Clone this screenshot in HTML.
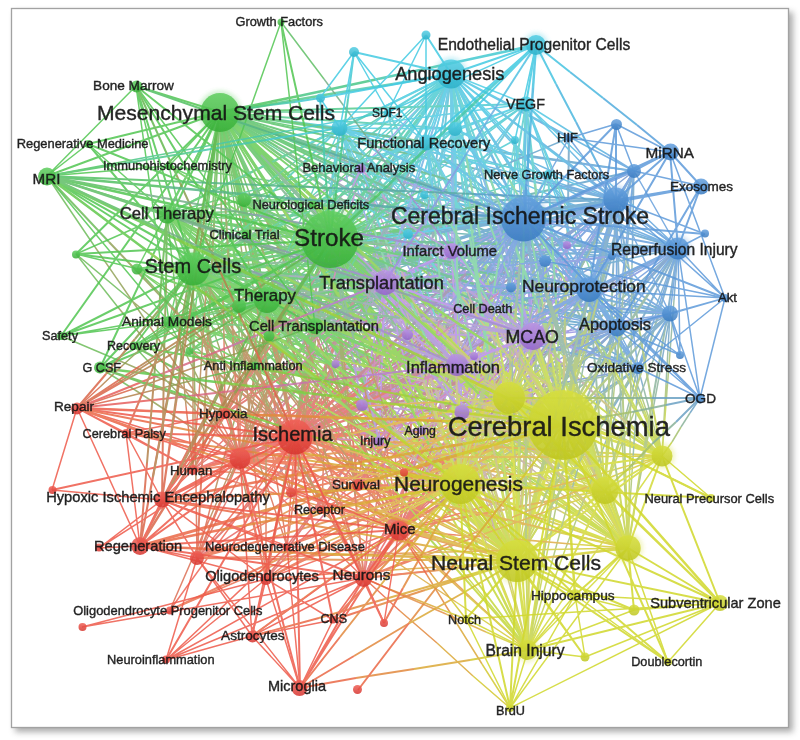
<!DOCTYPE html><html><head><meta charset="utf-8"><style>html,body{margin:0;padding:0;background:#fff;width:800px;height:740px;overflow:hidden}svg{display:block}text{font-family:"Liberation Sans",sans-serif;fill:#141414;stroke:#141414;stroke-width:0.4px;opacity:0.93}</style></head><body>
<svg width="800" height="740" viewBox="0 0 800 740">
<defs><filter id="sh" x="-5%" y="-5%" width="115%" height="115%"><feGaussianBlur stdDeviation="3"/></filter><filter id="hb" x="-50%" y="-50%" width="200%" height="200%"><feGaussianBlur stdDeviation="2"/></filter>
<filter id="bl" x="0" y="0" width="100%" height="100%"><feGaussianBlur stdDeviation="0.5"/></filter>
<linearGradient id="gG" x1="0" y1="0" x2="0" y2="1"><stop offset="0" stop-color="#60ce60"/><stop offset="1" stop-color="#36ae36"/></linearGradient>
<linearGradient id="gC" x1="0" y1="0" x2="0" y2="1"><stop offset="0" stop-color="#54cee4"/><stop offset="1" stop-color="#2cb0c8"/></linearGradient>
<linearGradient id="gB" x1="0" y1="0" x2="0" y2="1"><stop offset="0" stop-color="#64a0de"/><stop offset="1" stop-color="#387ac0"/></linearGradient>
<linearGradient id="gP" x1="0" y1="0" x2="0" y2="1"><stop offset="0" stop-color="#ba94e4"/><stop offset="1" stop-color="#9264ca"/></linearGradient>
<linearGradient id="gR" x1="0" y1="0" x2="0" y2="1"><stop offset="0" stop-color="#f06056"/><stop offset="1" stop-color="#d6342e"/></linearGradient>
<linearGradient id="gY" x1="0" y1="0" x2="0" y2="1"><stop offset="0" stop-color="#d6de3e"/><stop offset="1" stop-color="#bec620"/></linearGradient>
</defs>
<rect x="15" y="12" width="778" height="720" fill="#888" filter="url(#sh)" opacity="0.7"/>
<rect x="11.5" y="8.5" width="777" height="719" fill="#fff" stroke="#a2a2a2" stroke-width="1.3"/>
<g filter="url(#bl)">
<g fill="none" stroke-linecap="butt" opacity="0.8">
<path stroke="#81cc43" stroke-width="1.5" d="M364 344L412 362M242 362L315 403M310 250L376 299M256 382L343 442M393 382L472 437M317 373L365 410M306 395L358 425M232 342L327 415M306 329L374 352M218 323L299 376M320 414L386 463M314 316L382 398M331 392L393 448M334 273L424 345M282 298L398 381M364 294L415 383M254 341L339 360M340 287L436 374M388 367L460 408M362 253L411 301M353 375L437 413M318 374L382 382M336 366L434 427M350 274L387 344M347 432L257 323"/>
<path stroke="#48c8ac" stroke-width="3.0" d="M421 115L390 157"/>
<path stroke="#5c9fc9" stroke-width="3.5" d="M524 219L475 224"/>
<path stroke="#88b198" stroke-width="2.0" d="M558 278L593 338M589 250L562 299M525 387L557 338M598 405L638 327M524 322L537 356M600 396L619 382M569 366L624 307M592 386L567 444M616 234L598 298M600 298L588 340M569 317L549 344M636 286L594 323M593 340L597 390M599 354L608 419M526 434L524 327M550 302L554 343M577 271L538 342M578 367L539 406M632 375L594 437M613 273L610 345M607 331L626 373M660 309L642 370M566 281L568 209M590 345L563 363M605 268L576 366M666 323L653 398M591 249L547 328M619 287L622 374M618 356L565 399M628 264L639 328"/>
<path stroke="#5e9ada" stroke-width="2.5" d="M616 200L524 219M524 219L589 290"/>
<path stroke="#cccd43" stroke-width="2.5" d="M563 425L536 410M563 425L538 422M521 505L517 561M563 425L535 382M517 561L484 491M478 447L460 484"/>
<path stroke="#50c1e2" stroke-width="2.0" d="M451 74L471 140M451 74L434 126M451 74L452 147"/>
<path stroke="#52c652" stroke-width="1.5" d="M244 200L193 269M315 326L267 300M239 306L193 269M313 204L330 240M137 269L193 269M167 214L267 300M190 351L330 240M169 322L220 112M255 366L330 240M239 306L267 300M269 336L220 112M137 269L220 112M169 166L330 240M169 322L267 300M269 336L193 269M246 234L220 112M246 234L193 269M169 166L220 112M220 112L313 204M167 214L244 200M169 322L193 269M313 204L193 269M167 214L239 306M269 336L267 300M244 200L267 300M190 351L193 269M313 204L267 300M190 351L220 112M190 351L267 300M169 166L193 269M315 326L167 214"/>
<path stroke="#57bccf" stroke-width="2.5" d="M451 74L412 165"/>
<path stroke="#dba837" stroke-width="2.5" d="M522 451L481 478M482 433L402 442M378 460L419 472M402 418L456 408M406 499L462 530M513 463L463 502"/>
<path stroke="#a68ed1" stroke-width="1.5" d="M474 356L438 327M478 334L532 336M368 293L385 282M485 308L446 291M330 265L385 282M452 251L406 263M462 412L413 384M422 430L399 383M348 288L385 282M361 168L326 154M462 412L395 376M361 279L408 334M336 364L334 333M567 245L508 244M379 441L332 398M350 262L385 282M459 329L532 336M361 168L319 194M336 364L300 340M422 355L457 365M326 332L362 405M404 324L457 365M356 296L385 282M323 279L385 282M408 334L372 326M442 333L532 336M350 270L385 282M467 336L532 336M402 350L457 365M379 441L339 359M408 334L354 318M331 292L385 282M361 168L338 201M422 430L365 390M362 405L320 371M461 311L532 336M460 302L532 336M307 301L336 364M350 385L362 405M480 212L567 245M362 405L338 379M474 356L404 334M352 303L385 282M384 327L457 365"/>
<path stroke="#6ca1c4" stroke-width="1.5" d="M670 314L630 335M594 397L638 368M545 261L524 317M638 368L606 376M670 314L654 358M608 416L638 368M634 171L603 228M617 328L614 368M678 248L674 300M617 328L628 360M511 288L498 337M670 314L660 372M617 328L620 383M545 261L538 336M574 380L589 290M638 368L636 413M511 288L512 356M616 200L594 312M638 368L630 399M638 368L644 390M634 171L632 265M640 349L678 248M612 256L586 292M617 328L595 408M545 261L536 295M511 288L534 338M612 256L574 313M545 261L560 318M511 288L540 353M511 288L510 315M634 171L627 251M670 314L668 349"/>
<path stroke="#5aa0db" stroke-width="2.5" d="M505 183L524 219"/>
<path stroke="#dba837" stroke-width="3.5" d="M496 428L429 431"/>
<path stroke="#a0d13a" stroke-width="3.5" d="M505 379L446 332M470 386L378 347M470 481L424 400M477 347L392 269M428 423L395 362"/>
<path stroke="#56b585" stroke-width="1.5" d="M272 233L378 252M330 244L234 256M382 187L301 150M468 307L368 303M471 248L400 244M450 188L390 214M418 212L366 208M466 263L390 294M322 329L389 292M396 278L333 307M330 222L416 245M324 176L429 240M356 285L273 318M326 302L414 298M346 192L258 179M430 200L337 200M428 253L333 280M442 314L354 307M369 265L281 267M385 227L315 231M295 223L422 231M352 278L272 274M384 317L452 308M392 271L280 242M389 294L328 297M406 307L496 287M392 207L279 210M416 184L318 148M416 318L304 294M349 324L429 313"/>
<path stroke="#a0d13a" stroke-width="2.5" d="M340 298L400 391M394 430L327 376M365 320L464 372M351 334L430 366M436 488L355 415M468 365L536 428M364 255L437 327M439 376L501 400M496 348L579 402M412 438L364 392M479 394L554 471M454 496L392 430M478 547L429 445M412 302L509 396"/>
<path stroke="#da674b" stroke-width="3.0" d="M295 437L304 388"/>
<path stroke="#d76a83" stroke-width="1.5" d="M312 429L328 421M348 412L294 435M448 458L406 518M337 439L316 438M323 411L351 386M396 468L392 406M415 501L430 471M369 504L374 430M346 355L293 407M340 417L384 396M428 448L414 489M390 372L342 405M445 411L402 448M328 303L312 370M408 425L383 455M365 447L281 503M305 419L315 400M365 434L372 384M265 381L305 348M301 432L270 445M351 435L296 447M362 472L314 526M358 434L327 435M426 391L412 461M363 389L431 341M389 486L394 508M388 537L413 495M390 499L380 468M241 423L289 376M468 404L436 438M410 472L387 525M278 437L363 403"/>
<path stroke="#d3c82f" stroke-width="2.5" d="M563 425L522 451M563 425L482 433M419 472L460 484M456 408L509 398M462 530L517 561M563 425L513 463"/>
<path stroke="#bed642" stroke-width="1.5" d="M467 330L509 398M488 334L509 398M560 404L605 490M447 422L460 484M513 324L509 398M568 400L605 490M484 357L509 398M496 331L509 398M578 447L628 548M488 347L509 398M460 484L442 391M460 484L482 406M556 443L628 548M474 398L460 484M452 412L460 484M581 374L662 456M628 368L662 456M510 334L509 398M490 479L517 561"/>
<path stroke="#59aaa7" stroke-width="2.0" d="M345 216L434 218M585 295L500 276M517 178L418 156M449 180L564 214M561 336L484 304M419 272L471 246M510 217L404 234M529 225L442 250M454 214L384 210M491 256L438 250M452 241L381 262M490 284L391 279M404 201L497 245M558 188L482 205M557 254L436 259M346 270L435 245M508 292L428 295M530 156L427 142M511 313L405 298M466 276L420 264M575 261L472 274M518 274L418 220M558 263L445 213M551 302L432 291"/>
<path stroke="#ad8483" stroke-width="2.0" d="M346 266L293 362M317 282L306 360M360 290L328 363M425 302L412 416M353 354L410 270"/>
<path stroke="#6897db" stroke-width="2.5" d="M524 219L489 235M524 219L526 248"/>
<path stroke="#da674b" stroke-width="1.5" d="M222 397L240 458M193 470L193 420M193 470L200 381M225 414L217 377M225 414L224 338M210 364L225 414M193 470L212 428M197 558L196 486M254 462L266 579M266 579L248 502M192 388L240 458M240 391L295 437M199 408L240 458M295 437L236 412M205 436L240 458M222 424L240 458M240 458L214 430M186 406L193 470M287 546L264 477M270 438L287 546M288 412L295 437M281 404L295 437M317 431L358 485M322 510L324 442M364 578L339 509M264 408L295 437M358 485L335 439M287 546L298 470M170 610L210 518M269 416L295 437M285 419L295 437M273 398L291 492M291 492L266 437M282 378L295 437M283 386L295 437M240 420L240 458M404 472L386 414M225 414L236 385M324 392L358 485M378 479L399 530M256 395L295 437M266 579L266 509M259 425L240 458M314 487L364 578M247 428L240 458M404 472L351 422M322 510L289 449M197 558L214 494M359 474L399 530"/>
<path stroke="#61c84d" stroke-width="3.0" d="M330 240L375 279M220 112L294 225M341 331L267 300"/>
<path stroke="#50c664" stroke-width="2.5" d="M278 103L220 112"/>
<path stroke="#8e9ead" stroke-width="1.5" d="M438 327L402 298M424 331L478 334M350 304L368 293M446 291L408 274M276 248L330 265M406 263L360 276M413 384L364 356M399 383L376 335M312 294L348 288M326 154L290 140M395 376L328 340M314 224L361 279M334 333L333 302M508 244L448 242M332 398L286 355M314 241L350 262M386 321L459 329M319 194L277 219M300 340L264 316M386 346L422 355M291 259L326 332M350 282L404 324M327 309L356 296M261 276L323 279M372 326L337 317M351 329L442 333M316 258L350 270M401 336L467 336M348 336L402 350M339 359L300 277M354 318L300 302M277 302L331 292M338 201L314 234M365 390L308 350M320 371L278 337M389 286L461 311M388 268L460 302M278 238L307 301M338 366L350 385M394 179L480 212M338 379L314 352M404 334L334 312M320 324L352 303M312 290L384 327"/>
<path stroke="#76ae88" stroke-width="2.5" d="M344 250L358 261M431 288L381 264M394 302L362 271M376 224L298 168"/>
<path stroke="#56b585" stroke-width="3.5" d="M427 229L378 234"/>
<path stroke="#77cf9d" stroke-width="3.0" d="M479 162L507 250"/>
<path stroke="#6ca1c4" stroke-width="2.0" d="M524 219L558 278M616 200L589 250M557 338L589 290M638 327L678 248M511 288L524 322M619 382L638 368M624 307L678 248M617 328L592 386M634 171L616 234M612 256L600 298M589 290L569 317M678 248L636 286M589 290L593 340M589 290L599 354M524 327L524 219M545 261L550 302M616 200L577 271M617 328L578 367M670 314L632 375M616 200L613 273M589 290L607 331M678 248L660 309M568 209L569 138M617 328L590 345M634 171L605 268M678 248L666 323M634 171L591 249M616 200L619 287M670 314L618 356M616 200L628 264"/>
<path stroke="#b980d0" stroke-width="2.0" d="M362 321L385 282M473 362L532 336M457 365L416 383M420 418L462 412M349 326L385 282M532 336L459 367M452 251L413 298M532 336L499 385"/>
<path stroke="#59aaa7" stroke-width="1.5" d="M378 252L484 271M427 232L330 244M464 224L382 187M569 310L468 307M542 252L471 248M509 163L450 188M471 215L418 212M541 232L466 263M389 292L456 256M460 248L396 278M416 245L503 267M429 240L534 304M440 252L356 285M414 298L502 294M435 206L346 192M523 200L430 200M522 226L428 253M530 321L442 314M457 263L369 265M454 223L385 227M422 231L550 240M432 283L352 278M452 308L520 299M504 299L392 271M450 291L389 294M496 287L587 268M504 204L392 207M514 220L416 184M527 343L416 318M429 313L509 301"/>
<path stroke="#9ad270" stroke-width="3.0" d="M507 250L535 337"/>
<path stroke="#a0d13a" stroke-width="2.0" d="M388 349L448 374M490 403L416 380M388 405L424 444M399 380L502 435M366 374L464 399M484 377L404 330M436 395L520 443M482 395L401 366M483 369L404 312M410 408L519 478M338 306L424 352M416 444L466 502M314 349L387 416M448 424L538 486M500 370L438 315M409 395L486 410M350 395L405 440M456 386L350 347M441 284L552 370M342 388L430 474M464 378L563 417M378 434L448 497M352 342L406 413M424 330L526 439M428 362L545 409M470 406L376 388M462 562L397 475M464 360L366 296M380 380L449 471M444 555L360 460M386 352L496 421M451 516L374 381"/>
<path stroke="#8c9d4f" stroke-width="2.5" d="M258 275L239 194M244 353L218 311M285 349L308 294M364 385L347 312"/>
<path stroke="#53acdd" stroke-width="1.5" d="M594 176L571 152M466 226L495 223M560 194L615 254M519 180L521 199M474 207L499 213M573 243L558 197M490 192L456 166M530 208L536 196M640 212L602 176M498 168L522 214M481 181L496 234M576 182L536 164M568 186L521 171M542 122L588 147M509 188L593 218M594 272L572 216M522 209L556 249M544 221L591 294M547 182L478 164M508 216L548 253M464 209L527 249M579 261L568 232M552 196L615 222M564 208L512 217M607 154L580 138M576 278L536 228M532 165L572 210M510 106L540 122M566 189L622 219M599 194L582 187M582 164L530 157"/>
<path stroke="#77cf9d" stroke-width="1.5" d="M382 196L424 263M447 206L468 270M471 230L516 316M421 296L434 359M522 178L518 251M492 219L530 310M433 275L458 316M468 196L482 264M476 244L527 345M446 246L467 296M424 298L406 205M504 329L526 252M412 233L484 338M501 226L488 312M434 267L442 340M420 210L501 292M560 192L594 280M514 204L512 269M435 316L462 398"/>
<path stroke="#d0d82c" stroke-width="1.5" d="M528 650L628 548M528 650L662 456"/>
<path stroke="#6ca1c4" stroke-width="2.5" d="M524 219L520 264M649 293L678 248M617 328L604 352M616 200L591 290M524 219L550 301M524 219L544 287M670 314L643 341M589 290L571 357"/>
<path stroke="#52c652" stroke-width="2.5" d="M330 240L267 300M220 112L193 269M167 214L330 240M220 112L267 300"/>
<path stroke="#5ebe64" stroke-width="2.0" d="M220 112L261 155M360 242L330 240M267 300L296 296M193 269L241 272M349 263L330 240M259 293L193 269M363 283L330 240M338 222L330 240M278 286L193 269M333 309L267 300M314 316L267 300M279 176L220 112M338 281L330 240M278 147L220 112M220 112L280 187M342 290L330 240M258 264L193 269M167 214L258 245"/>
<path stroke="#9ad270" stroke-width="1.5" d="M424 263L467 330M468 270L488 334M516 316L560 404M434 359L447 422M518 251L513 324M530 310L568 400M458 316L484 357M482 264L496 331M527 345L578 447M467 296L488 347M442 391L424 298M482 406L504 329M484 338L556 443M488 312L474 398M442 340L452 412M501 292L581 374M594 280L628 368M512 269L510 334M462 398L490 479"/>
<path stroke="#53c063" stroke-width="3.0" d="M296 139L220 112"/>
<path stroke="#48c8ac" stroke-width="1.5" d="M374 144L359 176M469 165L422 190M361 204L314 173M494 190L439 207M321 171L303 214M386 182L346 221M401 206L377 217M408 172L361 214M417 137L383 200M304 112L346 112M296 150L253 171M396 202L461 153M399 106L348 137M390 164L324 199M296 178L361 160M373 174L322 154M373 250L338 267M360 186L443 145M398 132L345 190M333 178L327 227M406 140L360 205M384 143L466 159M416 107L382 139M316 146L292 164M370 234L398 188M380 136L310 198M339 152L290 191M354 243L300 252M380 157L335 171"/>
<path stroke="#6cb0e2" stroke-width="1.5" d="M451 118L452 162M416 178L406 212M388 180L436 232M474 181L494 233M351 167L362 205M529 220L528 162M454 158L456 243M453 191L479 240M434 198L442 254M440 139L429 204M456 193L491 149M429 157L406 240M432 170L439 197M369 187L398 246M428 98L406 121M402 246L396 258M456 188L456 247M438 167L420 206M439 260L470 285"/>
<path stroke="#53c063" stroke-width="2.5" d="M402 230L330 240M276 256L193 269M417 242L330 240M331 280L267 300M402 262L330 240M395 252L330 240"/>
<path stroke="#44c9d0" stroke-width="2.5" d="M451 74L393 84"/>
<path stroke="#bda49f" stroke-width="2.0" d="M423 383L404 333M472 414L487 463M462 415L412 410M485 380L446 357M527 352L521 367M470 373L483 382M461 448L462 430M416 311L447 340M490 486L476 449M458 395L459 424M454 309L456 368M494 396L531 428M556 389L580 442M440 334L495 386M500 411L542 456M446 349L506 415M551 375L569 414M518 390L496 373M468 328L484 406M504 337L524 366M471 433L425 437M412 233L462 297M457 429L492 428M565 366L597 396M565 335L566 290M449 394L392 379M454 326L524 369M530 493L531 415"/>
<path stroke="#e2893e" stroke-width="3.5" d="M429 431L362 434"/>
<path stroke="#d3c82f" stroke-width="2.0" d="M445 496L460 484M563 425L512 440M479 565L517 561M460 484L405 478M517 561L448 535M488 553L517 561M563 425L495 442M528 477L605 490M545 520L628 548M460 484L436 508M570 451L662 456M563 425L523 437M517 561L437 560M528 650L469 597M563 425L472 458M473 443L509 398M460 484L395 502M482 431L509 398M442 413L509 398M563 425L489 464M563 425L478 422M563 425L494 455M563 425L470 436M514 482L605 490M554 500L605 490M563 425L503 446M563 425L465 471M531 526L628 548"/>
<path stroke="#9482a4" stroke-width="2.0" d="M492 297L461 375M442 363L516 326M453 279L382 339M536 259L456 318M536 355L456 382M486 343L582 296M482 286L441 352M449 268L374 316M442 304L360 388M484 309L444 399M459 309L395 399M502 332L414 374M576 344L482 375M522 265L428 329"/>
<path stroke="#c0d530" stroke-width="3.0" d="M464 358L509 398M443 449L517 561M563 425L489 394"/>
<path stroke="#e2893e" stroke-width="2.5" d="M481 478L440 504M402 442L321 450M336 449L378 460M348 427L402 418M350 468L406 499M463 502L413 540"/>
<path stroke="#d0d82c" stroke-width="3.0" d="M563 425L628 548M563 425L605 490M460 484L517 561"/>
<path stroke="#d8685d" stroke-width="2.0" d="M293 362L240 458M306 360L295 437M328 363L295 437M412 416L399 530M295 437L353 354"/>
<path stroke="#b590cd" stroke-width="1.5" d="M421 372L408 334M401 444L362 405M462 412L474 408M435 391L408 334M387 425L362 405M362 405L399 403M457 365L508 388M452 251L490 311M408 334L433 350M421 374L385 282M471 388L474 356M452 251L466 288M379 441L399 452M379 441L412 430M462 412L504 446M379 441L414 471M367 394L336 364M422 430L446 463M452 251L496 325M362 405L423 426M462 412L498 432M474 356L483 366M485 308L479 352M362 405L428 441M485 407L474 356M540 305L567 245M485 308L493 371M361 168L386 247M381 413L336 364M485 308L491 330M379 441L436 453M422 430L432 444M475 436L457 365M554 324L567 245M567 245L552 283M422 430L444 422M336 364L379 372M478 472L462 412M361 168L400 267M408 334L463 388"/>
<path stroke="#5ebe64" stroke-width="2.5" d="M330 240L344 250M381 264L330 240M362 271L330 240M298 168L220 112"/>
<path stroke="#b590cd" stroke-width="3.0" d="M540 359L532 336M430 318L385 282"/>
<path stroke="#c875aa" stroke-width="2.0" d="M340 360L362 321M414 387L473 362M416 383L376 401M378 424L420 418M312 370L349 326M459 367L386 398M413 298L374 344M499 385L466 434"/>
<path stroke="#bed642" stroke-width="2.5" d="M458 382L460 484M500 439L517 561M563 425L529 354M563 425L554 345M507 351L563 425"/>
<path stroke="#a5c06d" stroke-width="3.5" d="M543 322L553 374"/>
<path stroke="#8c9d4f" stroke-width="3.0" d="M312 338L321 289"/>
<path stroke="#c0d530" stroke-width="1.5" d="M460 380L509 398M388 444L460 484M443 348L509 398M430 501L517 561M550 492L628 548M413 447L460 484M409 454L460 484M422 488L517 561M442 375L509 398M380 430L460 484M452 512L517 561M449 479L517 561M455 505L517 561M515 418L605 490M513 464L628 548M466 472L517 561M424 379L509 398M532 461L628 548M532 449L605 490M460 350L509 398M521 452L605 490M446 390L509 398M531 488L628 548M424 414L460 484M528 650L437 541"/>
<path stroke="#7d92dd" stroke-width="1.5" d="M596 330L575 332M534 226L545 232M609 212L583 254M636 319L601 325M504 264L514 241M568 307L623 278M511 253L499 288M494 248L466 277M557 320L526 351M442 194L483 206M575 213L534 226M520 270L555 280M599 306L528 298M578 253L539 306M559 316L501 305M487 274L451 330M505 266L465 272M617 326L564 339M544 301L498 312M570 330L624 289M572 199L510 227M516 300L522 312M585 352L612 360M473 325L498 272M577 337L537 346M542 280L539 299M498 307L484 326M548 366L593 367M575 347L512 325M476 255L430 292M484 365L536 327M604 211L592 222M480 286L448 285M592 276L572 296M532 318L476 347M565 250L622 249M578 349L540 370M523 287L501 313"/>
<path stroke="#61c84d" stroke-width="3.5" d="M388 286L330 240M286 308L193 269M377 320L330 240M306 191L220 112M363 301L330 240"/>
<path stroke="#5c9fc9" stroke-width="2.0" d="M434 218L524 219M670 314L585 295M616 200L517 178M564 214L678 248M638 368L561 336M471 246L524 219M616 200L510 217M616 200L529 225M524 219L454 214M545 261L491 256M524 219L452 241M589 290L490 284M497 245L589 290M634 171L558 188M678 248L557 254M435 245L524 219M589 290L508 292M634 171L530 156M617 328L511 313M511 288L466 276M678 248L575 261M617 328L518 274M670 314L558 263M670 314L551 302"/>
<path stroke="#45c4e1" stroke-width="2.0" d="M450 162L426 142M451 74L492 106M340 128L386 151M451 74L486 128M525 133L526 104M455 129L472 152M451 74L492 137M451 74L508 118"/>
<path stroke="#ea6946" stroke-width="2.5" d="M440 504L399 530M321 450L240 458M295 437L336 449M295 437L348 427M295 437L350 468M413 540L364 578"/>
<path stroke="#59aaa7" stroke-width="3.5" d="M475 224L427 229"/>
<path stroke="#d8685d" stroke-width="2.5" d="M334 346L295 437"/>
<path stroke="#57bccf" stroke-width="1.5" d="M455 129L415 206M451 74L394 159M451 74L429 200M340 128L354 229M424 195L392 256M408 234L380 285M451 74L388 195"/>
<path stroke="#d76a83" stroke-width="2.0" d="M318 398L340 360M354 412L414 387M376 401L336 419M337 431L378 424M276 414L312 370M386 398L313 428M374 344L334 390M466 434L432 482"/>
<path stroke="#81cc43" stroke-width="2.0" d="M328 324L388 349M416 380L342 358M351 366L388 405M296 324L399 380M268 348L366 374M404 330L325 282M352 348L436 395M401 366L320 336M404 312L324 256M302 339L410 408M252 260L338 306M366 385L416 444M240 282L314 349M357 362L448 424M438 315L376 260M332 380L409 395M294 350L350 395M350 347L244 308M330 198L441 284M254 301L342 388M366 339L464 378M308 370L378 434M298 271L352 342M322 221L424 330M310 316L428 362M376 388L283 370M397 475L332 388M366 296L268 231M312 290L380 380M360 460L277 364M276 283L386 352M374 381L297 247"/>
<path stroke="#59aaa7" stroke-width="2.5" d="M544 210L473 220M441 232L358 244M591 246L504 244M459 239L395 260M545 306L474 284M524 277L460 264"/>
<path stroke="#c4b971" stroke-width="3.0" d="M555 403L548 381M518 389L474 354"/>
<path stroke="#c0d530" stroke-width="2.0" d="M448 374L509 398M563 425L490 403M424 444L460 484M502 435L605 490M464 399L563 425M563 425L484 377M520 443L605 490M563 425L482 395M563 425L483 369M519 478L628 548M424 352L509 398M466 502L517 561M387 416L460 484M538 486L628 548M563 425L500 370M486 410L563 425M405 440L460 484M563 425L456 386M552 370L662 456M430 474L517 561M563 417L662 456M448 497L517 561M406 413L460 484M526 439L628 548M545 409L662 456M563 425L470 406M528 650L462 562M563 425L464 360M449 471L517 561M528 650L444 555M496 421L605 490M528 650L451 516"/>
<path stroke="#b980d0" stroke-width="1.5" d="M345 413L362 405M457 365L403 388M532 336L490 397M379 441L358 440M379 360L408 334M388 344L385 282M446 442L462 412M380 356L385 282M452 251L399 303M429 376L474 356M457 365L442 406M485 308L438 340M532 336L489 374M361 168L344 236M457 365L432 395M532 336L449 392M325 382L336 364M378 333L385 282M345 315L385 282M362 405L332 418M462 412L406 424M457 365L409 418M422 430L390 432M452 251L439 321M499 293L567 245M379 441L384 463M437 454L462 412M371 436L362 405M337 329L385 282M532 336L500 370M457 365L434 418M448 370L532 336"/>
<path stroke="#50c664" stroke-width="1.5" d="M344 208L330 240M376 215L330 240M267 143L220 112M384 223L330 240M285 257L267 300M307 261L267 300M354 228L330 240M314 257L267 300M349 263L315 326M220 112L262 112M210 192L167 214M267 300L332 251M296 168L244 200M258 234L193 269M167 214L232 196M271 133L220 112M302 284L267 300M193 269L276 228M292 248L239 306M321 276L315 326M314 270L269 336M220 112L302 128M348 172L313 204M268 182L244 200M315 326L343 280M240 260L169 322M242 230L193 269M247 260L193 269M290 186L244 200"/>
<path stroke="#928de0" stroke-width="2.0" d="M490 292L474 328M547 325L561 313M574 268L553 302M488 235L470 243M500 241L443 262M493 316L477 364M536 282L497 324M443 312L402 358M532 266L458 274M490 346L523 327M569 314L605 292M487 286L436 284"/>
<path stroke="#4cc788" stroke-width="2.0" d="M378 191L354 215M392 184L361 212M335 184L332 212M322 172L258 220M280 120L250 116M379 206L428 172M338 121L279 117M359 187L313 244M310 206L251 237M369 237L350 238M296 110L373 108M266 198L230 234M323 128L272 120M309 144L238 179"/>
<path stroke="#b87280" stroke-width="2.0" d="M461 375L430 453M368 400L442 363M382 339L311 399M456 318L375 378M456 382L376 410M391 390L486 343M441 352L399 418M374 316L300 365M360 388L279 473M444 399L404 489M395 399L330 489M414 374L327 416M482 375L389 406M428 329L334 394"/>
<path stroke="#e2893e" stroke-width="1.5" d="M284 431L343 449M409 484L384 485M456 535L514 539M438 523L398 504M430 571L496 563M396 463L434 442M463 590L431 560M465 512L530 493M446 614L404 596M384 554L312 506M424 556L484 534M460 517L432 495M404 527L348 510M432 478L418 475M275 518L353 478M392 570L329 574M346 458L451 457M391 497L356 503M363 532L315 555M419 535L370 522M296 410L367 406M344 550L402 554M274 493L355 516M327 534L388 488M376 488L333 490M368 482L415 454M420 486L482 488M305 556L412 553M330 531L374 515M298 450L371 487M346 469L400 445M426 501L493 516M260 474L327 477M438 548L513 517M272 452L351 434M315 547L243 579"/>
<path stroke="#b590cd" stroke-width="2.5" d="M484 380L457 365M487 415L462 412M532 336L529 393M480 294L452 251M418 352L385 282M532 336L514 373"/>
<path stroke="#a788e2" stroke-width="1.5" d="M554 334L532 336M556 238L567 245M558 295L532 336M567 331L532 336M485 308L495 286M457 365L512 336M486 322L474 356M436 306L408 334M494 381L462 412M361 168L402 181M493 238L452 251M452 251L486 261M456 290L385 282M500 359L462 412M443 294L385 282M415 386L379 441M425 277L385 282M510 352L457 365M453 323L408 334M462 412L516 371M447 255L385 282M527 324L532 336M532 336L559 344M422 430L447 378M497 356L457 365M536 318L532 336M470 346L457 365M457 365L502 366M448 304L385 282M382 328L336 364M379 441L432 403M579 234L567 245M416 284L385 282M552 316L532 336M419 376L362 405M452 251L508 250M501 391L462 412M479 339L457 365"/>
<path stroke="#da674b" stroke-width="2.5" d="M295 437L276 356M295 437L270 395M240 458L262 404M399 530L382 458"/>
<path stroke="#a788e2" stroke-width="2.0" d="M474 328L457 365M532 336L547 325M553 302L532 336M470 243L452 251M443 262L385 282M477 364L462 412M497 324L457 365M402 358L362 405M458 274L385 282M457 365L490 346M532 336L569 314M436 284L385 282"/>
<path stroke="#b3824d" stroke-width="3.0" d="M304 388L312 338"/>
<path stroke="#c4b971" stroke-width="1.5" d="M447 447L434 409M478 522L440 483M486 405L497 402M490 504L462 448M436 464L411 444M436 402L472 400M560 410L611 433M528 371L567 431M458 366L484 382M492 558L456 466M464 452L467 420M480 324L495 361M420 462L440 473M444 420L476 409M545 480L586 514M448 501L482 531M429 454L398 424M470 496L493 528M540 400L584 474M484 448L544 469M534 451L569 471M492 377L500 388M473 396L467 440M495 476L562 512M506 510L496 458M487 424L514 364M501 434L509 498M411 326L436 405M472 512L426 462M497 353L503 376M492 466L548 478M441 457L451 471M510 579L492 508M530 482L542 403M538 322L524 360M466 414L487 406M422 381L466 390M511 590L495 531M439 365L478 463M518 441L573 495"/>
<path stroke="#88b198" stroke-width="3.0" d="M576 357L582 323M603 256L590 312M522 304L520 390M508 285L492 352"/>
<path stroke="#b87280" stroke-width="1.5" d="M381 420L466 402M469 460L538 390M407 356L349 424M446 470L494 410M350 406L459 354M403 362L349 400M464 346L434 409M508 429L454 480M420 506L476 434M420 349L358 393M358 344L276 407M405 383L346 465M490 453L427 516M508 365L453 448M464 304L380 370M422 364L372 437M454 346L374 392"/>
<path stroke="#8e9ead" stroke-width="2.5" d="M358 261L371 272M482 312L431 288M425 334L394 302M454 280L376 224"/>
<path stroke="#4cb8df" stroke-width="1.5" d="M571 152L548 128M437 230L466 226M506 134L560 194M517 160L519 180M449 201L474 207M558 197L542 150M456 166L422 139M536 196L542 185M602 176L564 140M474 121L498 168M466 127L481 181M536 164L495 147M521 171L474 157M497 98L542 122M424 158L509 188M572 216L549 160M488 169L522 209M498 148L544 221M478 164L409 146M467 179L508 216M402 168L464 209M568 232L558 203M489 169L552 196M512 217L460 226M580 138L553 121M536 228L496 179M491 120L532 165M480 90L510 106M511 159L566 189M582 187L565 180M530 157L478 150"/>
<path stroke="#44c9d0" stroke-width="2.0" d="M426 142L402 167M455 129L424 157M340 128L337 156M451 74L386 123M340 128L310 124M477 138L526 104M455 129L396 125M451 74L405 130M426 142L368 174M408 234L388 235M450 106L526 104M340 128L303 163M426 142L374 135M451 74L380 109"/>
<path stroke="#8c9d4f" stroke-width="1.5" d="M185 275L204 336M193 370L193 319M206 291L213 202M209 341L201 305M222 263L221 188M182 264L196 314M230 385L248 342M195 414L194 341M232 229L243 346M230 424L211 346M95 247L144 318M131 300L186 346M117 306L158 356M178 386L120 361M135 390L170 413M187 356L204 390M187 402L160 374M174 278L180 342M240 408L216 338M237 221L254 330M276 361L282 386M253 339L267 372M234 323L276 377M326 374L328 307M315 439L291 370M200 351L232 380M312 392L290 346M308 393L319 316M250 425L290 332M216 372L242 394M265 383L275 401M238 208L256 302M242 381L218 325M257 259L270 318M258 285L270 336M239 344L240 382M367 356L348 298M246 357L256 328M254 206L289 299M336 377L357 428M176 311L216 353M266 440L267 370M296 359L278 392M216 305L265 396M262 367L254 397M298 371L246 320M257 389L225 329M232 429L250 364M279 362L319 418"/>
<path stroke="#ee5a4a" stroke-width="2.0" d="M295 437L399 530M295 437L364 578M295 437L240 458"/>
<path stroke="#5c9fc9" stroke-width="3.0" d="M524 219L448 192"/>
<path stroke="#53acdd" stroke-width="2.5" d="M487 146L505 183"/>
<path stroke="#c1d041" stroke-width="2.5" d="M513 353L509 398M563 425L592 381M576 401L563 425M542 471L517 561M602 466L628 548M585 423L605 490M590 397L563 425M535 493L517 561"/>
<path stroke="#53cbcb" stroke-width="2.5" d="M451 74L453 176M451 74L468 196M460 213L426 142M535 184L526 104M340 128L395 202"/>
<path stroke="#ee5a4a" stroke-width="1.5" d="M295 437L358 485M295 437L197 558M295 437L266 579M399 530L364 578M295 437L322 510M225 414L295 437M295 437L291 492M399 530L240 458M295 437L287 546M295 437L404 472M399 530L266 579M225 414L240 458M193 470L295 437M266 579L240 458M364 578L240 458M364 578L266 579M193 470L240 458M399 530L291 492M295 437L170 610M225 414L399 530M197 558L240 458"/>
<path stroke="#42cae2" stroke-width="1.5" d="M451 74L526 104M451 74L340 128M451 74L426 142M451 74L455 129M340 128L426 142M451 74L388 112M451 74L515 140M451 74L408 234M426 142L526 104M340 128L526 104M340 128L455 129M455 129L526 104M455 129L426 142"/>
<path stroke="#77cf9d" stroke-width="2.5" d="M453 176L456 279M468 196L484 318M494 284L460 213M544 264L535 184M395 202L451 276"/>
<path stroke="#53acdd" stroke-width="2.0" d="M499 200L475 181M534 137L575 168M432 174L478 196M520 182L554 236M524 190L525 162M489 174L506 196M534 201L576 264M564 161L621 205"/>
<path stroke="#53c063" stroke-width="1.5" d="M167 214L272 233M234 256L137 269M301 150L220 112M368 303L267 300M400 244L330 240M390 214L330 240M366 208L313 204M390 294L315 326M255 366L322 329M333 307L269 336M244 200L330 222M220 112L324 176M273 318L190 351M239 306L326 302M258 179L169 166M337 200L244 200M333 280L239 306M354 307L267 300M281 267L193 269M315 231L246 234M167 214L295 223M272 274L193 269M315 326L384 317M280 242L167 214M328 297L267 300M315 326L406 307M279 210L167 214M318 148L220 112M304 294L193 269M269 336L349 324"/>
<path stroke="#82a0a9" stroke-width="2.0" d="M398 170L346 266M328 205L317 282M393 216L360 290M438 188L425 302M410 270L468 187"/>
<path stroke="#c0d530" stroke-width="3.5" d="M563 425L505 379M563 425L470 386M517 561L470 481M563 425L477 347M460 484L428 423"/>
<path stroke="#7092c8" stroke-width="1.5" d="M552 385L638 368M608 319L678 248M524 219L465 287M542 350L589 290M568 301L678 248M511 288L457 325M524 219L494 282M617 328L562 378M533 362L589 290M545 261L482 305M524 219L441 282M524 219L464 301M617 328L554 390M616 200L562 283M634 171L549 238M524 219L473 292M612 256L533 301"/>
<path stroke="#57bccf" stroke-width="2.0" d="M451 74L398 170M340 128L328 205M426 142L393 216M451 74L438 188M468 187L526 104"/>
<path stroke="#53cbcb" stroke-width="2.0" d="M451 74L466 155M455 129L482 203M408 234L447 282M451 74L490 178M552 237L548 174M424 195L459 252M432 191L388 112M510 199L526 104M451 74L495 192M515 140L527 211M426 142L449 247M524 218L526 104M426 142L435 228M340 128L370 217M451 74L504 170M455 129L470 237M340 128L384 236M455 129L456 218M451 74L470 218"/>
<path stroke="#7d92dd" stroke-width="2.5" d="M489 235L454 251M526 248L528 278"/>
<path stroke="#9482a4" stroke-width="1.5" d="M466 402L552 385M538 390L608 319M465 287L407 356M494 410L542 350M459 354L568 301M457 325L403 362M494 282L464 346M562 378L508 429M476 434L533 362M482 305L420 349M441 282L358 344M464 301L405 383M554 390L490 453M562 283L508 365M549 238L464 304M473 292L422 364M533 301L454 346"/>
<path stroke="#a48ee3" stroke-width="2.0" d="M512 271L532 336M402 230L385 282M456 292L457 365"/>
<path stroke="#48c8ac" stroke-width="2.0" d="M402 167L378 191M424 157L392 184M337 156L335 184M386 123L322 172M310 124L280 120M428 172L477 138M396 125L338 121M405 130L359 187M368 174L310 206M388 235L369 237M373 108L450 106M303 163L266 198M374 135L323 128M380 109L309 144"/>
<path stroke="#9ad270" stroke-width="2.0" d="M480 236L494 317M509 277L536 351M486 330L524 377M528 282L566 386M559 362L556 300M494 310L528 368M519 347L476 269M477 389L493 294M540 311L584 430M539 282L551 354M472 352L494 456M519 447L522 332M443 313L452 399M400 306L430 395M556 265L609 360M486 345L502 453M428 344L473 453M458 306L459 395M489 362L508 506"/>
<path stroke="#45c4e1" stroke-width="2.5" d="M451 74L469 110"/>
<path stroke="#e2893e" stroke-width="2.0" d="M414 519L430 507M460 455L409 470M402 574L440 570M350 471L295 465M378 510L309 484M428 538L458 546M427 459L359 476M372 450L450 464M378 465L462 492M412 531L388 555M387 442L478 446M484 449L444 461M357 560L277 559M411 544L353 490M380 492L288 525M400 533L436 488M329 521L263 540M426 497L454 464M307 443L374 428M414 502L340 540M394 419L310 416M425 486L356 516M378 448L286 459M331 466L422 474M450 520L502 510M442 467L382 488M366 518L268 564M337 481L434 503"/>
<path stroke="#81cc43" stroke-width="3.5" d="M446 332L388 286M378 347L286 308M424 400L377 320M392 269L306 191M395 362L363 301"/>
<path stroke="#ea6946" stroke-width="3.5" d="M362 434L295 437"/>
<path stroke="#50c664" stroke-width="2.0" d="M354 215L330 240M361 212L330 240M332 212L330 240M258 220L193 269M250 116L220 112M330 240L379 206M279 117L220 112M313 244L267 300M251 237L193 269M350 238L330 240M220 112L296 110M230 234L193 269M272 120L220 112M238 179L167 214"/>
<path stroke="#59aaa7" stroke-width="3.0" d="M448 192L372 166"/>
<path stroke="#9ad270" stroke-width="2.5" d="M456 279L458 382M484 318L500 439M529 354L494 284M554 345L544 264M451 276L507 351"/>
<path stroke="#82a0a9" stroke-width="1.5" d="M415 206L375 283M394 159L338 244M429 200L407 326M354 229L369 329M392 256L360 316M380 285L352 336M388 195L324 316"/>
<path stroke="#88b198" stroke-width="3.5" d="M533 270L543 322"/>
<path stroke="#d0d82c" stroke-width="2.5" d="M563 425L662 456M460 484L509 398M517 561L628 548M528 650L563 425M517 561L509 398M517 561L605 490M460 484L605 490M460 484L628 548"/>
<path stroke="#65b851" stroke-width="2.0" d="M167 214L199 270M205 316L193 269M220 112L225 199M220 112L214 224M220 112L256 229M236 346L193 269M265 217L220 112M244 334L193 269M260 340L267 300M274 334L267 300M109 242L47 176M338 324L330 240M315 326L310 354M304 283L330 240M330 240L337 301M297 319L330 240M314 324L330 240M320 303L330 240M300 358L267 300M296 297L330 240"/>
<path stroke="#7092c8" stroke-width="2.0" d="M524 219L492 297M516 326L589 290M524 219L453 279M616 200L536 259M617 328L536 355M582 296L678 248M524 219L482 286M524 219L449 268M524 219L442 304M524 219L484 309M524 219L459 309M589 290L502 332M670 314L576 344M616 200L522 265"/>
<path stroke="#52c652" stroke-width="3.0" d="M193 269L330 240"/>
<path stroke="#65b851" stroke-width="1.5" d="M167 214L185 275M193 319L193 269M213 202L220 112M201 305L193 269M221 188L220 112M167 214L182 264M248 342L267 300M194 341L193 269M220 112L232 229M211 346L193 269M47 176L95 247M76 254L131 300M76 254L117 306M120 361L61 336M100 368L135 390M169 322L187 356M160 374L134 346M167 214L174 278M216 338L193 269M220 112L237 221M269 336L276 361M239 306L253 339M193 269L234 323M328 307L330 240M291 370L267 300M169 322L200 351M290 346L267 300M319 316L330 240M290 332L330 240M190 351L216 372M255 366L265 383M220 112L238 208M218 325L193 269M244 200L257 259M246 234L258 285M239 306L239 344M348 298L330 240M256 328L267 300M220 112L254 206M315 326L336 377M137 269L176 311M267 370L267 300M315 326L296 359M167 214L216 305M269 336L262 367M246 320L193 269M225 329L193 269M250 364L267 300M239 306L279 362"/>
<path stroke="#5aa0db" stroke-width="1.5" d="M616 200L594 176M495 223L524 219M615 254L670 314M521 199L524 219M499 213L524 219M589 290L573 243M524 219L490 192M524 219L530 208M678 248L640 212M522 214L545 261M496 234L511 288M616 200L576 182M616 200L568 186M588 147L634 171M593 218L678 248M617 328L594 272M556 249L589 290M591 294L638 368M616 200L547 182M548 253L589 290M527 249L589 290M589 290L579 261M615 222L678 248M616 200L564 208M634 171L607 154M617 328L576 278M572 210L612 256M540 122L569 138M622 219L678 248M616 200L599 194M634 171L582 164"/>
<path stroke="#a48ee3" stroke-width="1.5" d="M452 207L452 251M395 248L385 282M484 284L532 336M513 285L532 336M374 244L385 282M532 336L531 278M459 328L462 412M506 288L532 336M449 309L457 365M418 269L408 334M385 282L420 238M384 322L362 405M446 224L452 251M428 306L457 365M384 145L361 168M391 270L385 282M456 306L457 365M402 244L385 282M501 311L532 336"/>
<path stroke="#dc625c" stroke-width="1.5" d="M295 437L381 420M399 530L469 460M349 424L291 492M399 530L446 470M240 458L350 406M349 400L295 437M434 409L404 472M454 480L399 530M364 578L420 506M358 393L295 437M276 407L193 470M346 465L287 546M427 516L364 578M453 448L399 530M380 370L295 437M372 437L322 510M374 392L295 437"/>
<path stroke="#b590cd" stroke-width="2.0" d="M404 333L385 282M457 365L472 414M412 410L362 405M446 357L408 334M532 336L527 352M457 365L470 373M462 430L462 412M385 282L416 311M476 449L462 412M457 365L458 395M452 251L454 309M457 365L494 396M532 336L556 389M385 282L440 334M457 365L500 411M385 282L446 349M532 336L551 375M496 373L474 356M452 251L468 328M485 308L504 337M425 437L379 441M361 168L412 233M422 430L457 429M532 336L565 366M566 290L567 245M392 379L336 364M385 282L454 326M531 415L532 336"/>
<path stroke="#c1d041" stroke-width="3.5" d="M553 374L563 425"/>
<path stroke="#65b851" stroke-width="2.5" d="M239 194L220 112M218 311L193 269M308 294L330 240M347 312L330 240"/>
<path stroke="#bda49f" stroke-width="3.0" d="M548 381L540 359M474 354L430 318"/>
<path stroke="#a788e2" stroke-width="2.5" d="M420 267L385 282M530 307L532 336"/>
<path stroke="#82a0a9" stroke-width="2.5" d="M412 165L373 256"/>
<path stroke="#52c652" stroke-width="2.0" d="M315 326L330 240M239 306L330 240M193 269L267 300M244 200L330 240M167 214L220 112M167 214L193 269M169 322L330 240M269 336L330 240M137 269L330 240M239 306L220 112M244 200L220 112M246 234L330 240M315 326L220 112M315 326L193 269"/>
<path stroke="#ad8483" stroke-width="2.5" d="M373 256L334 346"/>
<path stroke="#e65f5d" stroke-width="2.0" d="M295 437L318 398M295 437L354 412M336 419L295 437M295 437L337 431M240 458L276 414M313 428L240 458M334 390L295 437M432 482L399 530"/>
<path stroke="#928de0" stroke-width="1.5" d="M575 332L554 334M545 232L556 238M583 254L558 295M601 325L567 331M495 286L504 264M512 336L568 307M499 288L486 322M466 277L436 306M526 351L494 381M402 181L442 194M534 226L493 238M486 261L520 270M528 298L456 290M539 306L500 359M501 305L443 294M451 330L415 386M465 272L425 277M564 339L510 352M498 312L453 323M516 371L570 330M510 227L447 255M522 312L527 324M559 344L585 352M447 378L473 325M537 346L497 356M539 299L536 318M484 326L470 346M502 366L548 366M512 325L448 304M430 292L382 328M432 403L484 365M592 222L579 234M448 285L416 284M572 296L552 316M476 347L419 376M508 250L565 250M540 370L501 391M501 313L479 339"/>
<path stroke="#56b585" stroke-width="3.0" d="M372 166L296 139"/>
<path stroke="#7092c8" stroke-width="2.5" d="M524 219L466 274"/>
<path stroke="#53cbcb" stroke-width="1.5" d="M340 128L382 196M426 142L447 206M426 142L471 230M408 234L421 296M526 104L522 178M455 129L492 219M408 234L433 275M455 129L468 196M426 142L476 244M424 195L446 246M406 205L388 112M526 252L548 174M340 128L412 233M515 140L501 226M424 195L434 267M340 128L420 210M526 104L560 192M515 140L514 204M408 234L435 316"/>
<path stroke="#76ae88" stroke-width="1.5" d="M402 298L366 269M369 329L424 331M332 315L350 304M408 274L369 257M222 231L276 248M360 276L313 288M364 356L316 328M376 335L353 287M276 300L312 294M290 140L255 126M328 340L260 305M267 168L314 224M333 302L331 271M448 242L389 241M286 355L240 312M279 221L314 241M312 314L386 321M277 219L235 244M264 316L229 293M350 336L386 346M256 186L291 259M297 241L350 282M298 323L327 309M199 272L261 276M337 317L302 309M260 326L351 329M281 246L316 258M335 336L401 336M294 321L348 336M300 277L260 195M300 302L247 285M223 312L277 302M314 234L290 267M308 350L250 309M278 337L235 303M318 260L389 286M316 234L388 268M249 175L278 238M327 346L338 366M307 146L394 179M314 352L291 326M334 312L263 291M288 345L320 324M240 252L312 290"/>
<path stroke="#5e9ada" stroke-width="1.5" d="M617 328L589 290M511 288L524 219M670 314L589 290M617 328L616 200M612 256L524 219M616 200L670 314M617 328L678 248M634 171L678 248M670 314L678 248M524 219L569 138M634 171L616 200M616 200L545 261M617 328L670 314M638 368L678 248M545 261L589 290M634 171L589 290M617 328L634 171M545 261L678 248M589 290L638 368M616 200L511 288M670 314L638 368M617 328L638 368M616 200L569 138M616 200L638 368M612 256L589 290M511 288L589 290"/>
<path stroke="#c4b971" stroke-width="2.5" d="M536 410L510 395M538 422L512 418M525 449L521 505M535 382L508 338M484 491L451 422M496 410L478 447"/>
<path stroke="#53cbcb" stroke-width="3.0" d="M451 74L479 162"/>
<path stroke="#5c9fc9" stroke-width="2.5" d="M616 200L544 210M524 219L441 232M678 248L591 246M524 219L459 239M617 328L545 306M589 290L524 277"/>
<path stroke="#56b585" stroke-width="2.0" d="M256 215L345 216M500 276L415 258M418 156L319 134M334 146L449 180M484 304L407 272M367 299L419 272M404 234L299 252M442 250L354 275M384 210L314 205M438 250L384 245M381 262L310 284M391 279L292 274M312 157L404 201M482 205L406 222M436 259L314 264M258 296L346 270M428 295L348 297M427 142L324 127M405 298L299 284M420 264L375 252M472 274L370 287M418 220L319 166M445 213L332 163M432 291L312 280"/>
<path stroke="#cccd43" stroke-width="1.5" d="M460 484L447 447M517 561L478 522M497 402L509 398M517 561L490 504M460 484L436 464M472 400L509 398M611 433L662 456M567 431L605 490M484 382L509 398M528 650L492 558M460 484L464 452M495 361L509 398M440 473L460 484M476 409L509 398M586 514L628 548M482 531L517 561M460 484L429 454M493 528L517 561M584 474L628 548M544 469L605 490M569 471L605 490M500 388L509 398M467 440L460 484M562 512L628 548M517 561L506 510M460 484L487 424M509 498L517 561M436 405L460 484M517 561L472 512M503 376L509 398M548 478L605 490M451 471L460 484M528 650L510 579M517 561L530 482M524 360L509 398M487 406L509 398M466 390L509 398M528 650L511 590M478 463L517 561M573 495L628 548"/>
<path stroke="#61c84d" stroke-width="2.0" d="M267 300L328 324M342 358L269 336M315 326L351 366M193 269L296 324M169 322L268 348M325 282L246 234M267 300L352 348M320 336L239 306M324 256L244 200M193 269L302 339M167 214L252 260M315 326L366 385M167 214L240 282M267 300L357 362M376 260L313 204M255 366L332 380M239 306L294 350M244 308L137 269M220 112L330 198M167 214L254 301M267 300L366 339M239 306L308 370M244 200L298 271M220 112L322 221M193 269L310 316M283 370L190 351M332 388L267 300M268 231L169 166M244 200L312 290M277 364L193 269M167 214L276 283M297 247L220 112"/>
<path stroke="#52c652" stroke-width="3.5" d="M220 112L330 240"/>
<path stroke="#889fe3" stroke-width="1.5" d="M452 162L452 207M406 212L395 248M436 232L484 284M494 233L513 285M362 205L374 244M531 278L529 220M456 243L459 328M479 240L506 288M442 254L449 309M429 204L418 269M420 238L456 193M406 240L384 322M439 197L446 224M398 246L428 306M406 121L384 145M396 258L391 270M456 247L456 306M420 206L402 244M470 285L501 311"/>
<path stroke="#ea6946" stroke-width="1.5" d="M225 414L284 431M384 485L358 485M399 530L456 535M398 504L358 485M364 578L430 571M358 485L396 463M431 560L399 530M399 530L465 512M404 596L364 578M312 506L240 458M364 578L424 556M432 495L404 472M348 510L291 492M418 475L404 472M197 558L275 518M329 574L266 579M240 458L346 458M356 503L322 510M315 555L266 579M370 522L322 510M225 414L296 410M287 546L344 550M193 470L274 493M266 579L327 534M333 490L291 492M322 510L368 482M358 485L420 486M197 558L305 556M287 546L330 531M225 414L298 450M291 492L346 469M358 485L426 501M193 470L260 474M364 578L438 548M193 470L272 452M243 579L170 610"/>
<path stroke="#50c664" stroke-width="3.0" d="M360 198L330 240"/>
<path stroke="#bda49f" stroke-width="2.5" d="M510 395L484 380M512 418L487 415M529 393L525 449M508 338L480 294M451 422L418 352M514 373L496 410"/>
<path stroke="#ad8483" stroke-width="1.5" d="M375 283L335 360M338 244L282 329M407 326L385 452M369 329L384 430M360 316L327 376M352 336L323 386M324 316L260 437"/>
<path stroke="#cccd43" stroke-width="2.0" d="M460 484L442 434M502 512L517 561M563 425L513 420M563 425L524 402M515 383L509 398M496 390L509 398M460 484L461 466M478 369L509 398M517 561L503 524M460 454L460 484M458 426L460 484M568 459L605 490M604 495L628 548M550 438L605 490M585 502L628 548M567 482L628 548M587 452L605 490M563 425L541 408M501 484L517 561M544 396L563 425M563 425L517 429M512 361L563 425M528 426L563 425M630 426L662 456M563 425L564 380M563 425L506 410M593 413L662 456M528 650L529 572"/>
<path stroke="#4cc788" stroke-width="3.0" d="M390 157L360 198"/>
<path stroke="#b3824d" stroke-width="2.0" d="M231 326L263 381M228 411L216 364M230 286L235 372M208 335L203 447M292 346L328 462M321 501L278 424M354 426L310 322M348 465L296 400M247 419L254 379M288 403L281 368M233 372L171 307M355 494L347 409M305 382L300 409M251 370L278 326M344 362L351 424M230 478L264 399M282 494L298 409M301 429L310 366M366 473L333 415M227 412L262 355"/>
<path stroke="#928de0" stroke-width="2.5" d="M454 251L420 267M528 278L530 307"/>
<path stroke="#56b585" stroke-width="2.5" d="M473 220L402 230M358 244L276 256M504 244L417 242M395 260L331 280M474 284L402 262M460 264L395 252"/>
<path stroke="#ea6946" stroke-width="2.0" d="M399 530L414 519M409 470L358 485M364 578L402 574M295 465L240 458M309 484L240 458M399 530L428 538M359 476L291 492M295 437L372 450M295 437L378 465M388 555L364 578M295 437L387 442M444 461L404 472M277 559L197 558M353 490L295 437M288 525L197 558M364 578L400 533M263 540L197 558M399 530L426 497M240 458L307 443M340 540L266 579M310 416L225 414M356 516L287 546M286 459L193 470M240 458L331 466M399 530L450 520M382 488L322 510M268 564L170 610M240 458L337 481"/>
<path stroke="#9482a4" stroke-width="2.5" d="M466 274L409 328"/>
<path stroke="#8c9d4f" stroke-width="2.0" d="M199 270L231 326M216 364L205 316M225 199L230 286M214 224L208 335M256 229L292 346M278 424L236 346M310 322L265 217M296 400L244 334M254 379L260 340M281 368L274 334M171 307L109 242M347 409L338 324M310 354L305 382M278 326L304 283M337 301L344 362M264 399L297 319M298 409L314 324M310 366L320 303M333 415L300 358M262 355L296 297"/>
<path stroke="#5c9fc9" stroke-width="1.5" d="M484 271L589 290M524 219L427 232M545 261L464 224M670 314L569 310M612 256L542 252M569 138L509 163M524 219L471 215M616 200L541 232M456 256L524 219M524 219L460 248M503 267L589 290M534 304L638 368M524 219L440 252M502 294L589 290M524 219L435 206M616 200L523 200M616 200L522 226M617 328L530 321M545 261L457 263M524 219L454 223M550 240L678 248M511 288L432 283M520 299L589 290M617 328L504 299M511 288L450 291M587 268L678 248M616 200L504 204M612 256L514 220M638 368L527 343M509 301L589 290"/>
<path stroke="#a0d13a" stroke-width="3.0" d="M420 319L464 358M368 337L443 449M489 394L415 362"/>
<path stroke="#8e9ead" stroke-width="2.0" d="M302 198L344 240M422 248L391 245M326 291L356 287M289 276L337 279M388 311L369 287M391 341L325 317M429 369L396 326M353 186L346 204M448 320L363 303M466 327L400 318M410 349L362 332M398 302L338 239M354 364L346 322M394 216L336 182M341 262L402 337M367 391L354 340M387 256L322 260M350 275L441 306"/>
<path stroke="#d0d82c" stroke-width="3.5" d="M563 425L517 561M563 425L509 398M563 425L460 484"/>
<path stroke="#44c9d0" stroke-width="3.0" d="M451 74L421 115"/>
<path stroke="#b286e4" stroke-width="1.5" d="M532 336L462 412M452 251L385 282M452 251L532 336M457 365L462 412M408 334L385 282M532 336L408 334M362 405L385 282M452 251L457 365M532 336L362 405M379 441L532 336M462 412L385 282M457 365L474 356M532 336L474 356M379 441L385 282M422 430L385 282"/>
<path stroke="#c0d530" stroke-width="2.5" d="M400 391L460 484M460 484L394 430M464 372L563 425M430 366L509 398M517 561L436 488M536 428L605 490M437 327L509 398M501 400L563 425M579 402L662 456M460 484L412 438M554 471L628 548M517 561L454 496M528 650L478 547M509 396L605 490"/>
<path stroke="#cccd43" stroke-width="3.0" d="M563 425L555 403M563 425L518 389"/>
<path stroke="#a5c06d" stroke-width="2.5" d="M516 308L513 353M592 381L620 337M590 376L576 401M566 380L542 471M576 384L602 466M564 355L585 423M616 369L590 397M553 425L535 493"/>
<path stroke="#50c1e2" stroke-width="1.5" d="M451 74L451 118M426 142L416 178M340 128L388 180M455 129L474 181M340 128L351 167M528 162L526 104M451 74L454 158M426 142L453 191M426 142L434 198M451 74L440 139M491 149L526 104M451 74L429 157M426 142L432 170M340 128L369 187M451 74L428 98M408 234L402 246M455 129L456 188M455 129L438 167M408 234L439 260"/>
<path stroke="#d8685d" stroke-width="1.5" d="M335 360L295 437M282 329L225 414M385 452L364 578M384 430L399 530M327 376L295 437M323 386L295 437M260 437L197 558"/>
<path stroke="#b87280" stroke-width="2.5" d="M409 328L352 382"/>
<path stroke="#b3824d" stroke-width="2.5" d="M276 356L258 275M270 395L244 353M262 404L285 349M382 458L364 385"/>
<path stroke="#e65f5d" stroke-width="1.5" d="M295 437L312 429M294 435L240 458M406 518L364 578M316 438L295 437M295 437L323 411M399 530L396 468M399 530L415 501M364 578L369 504M293 407L240 458M295 437L340 417M414 489L399 530M342 405L295 437M402 448L358 485M312 370L295 437M383 455L358 485M281 503L197 558M295 437L305 419M358 485L365 434M225 414L265 381M270 445L240 458M296 447L240 458M314 526L266 579M327 435L295 437M412 461L399 530M295 437L363 389M394 508L399 530M364 578L388 537M399 530L390 499M193 470L241 423M436 438L404 472M387 525L364 578M193 470L278 437"/>
<path stroke="#6cb0e2" stroke-width="2.0" d="M471 140L492 205M434 126L418 178M452 147L454 220"/>
<path stroke="#6ca1c4" stroke-width="3.0" d="M582 323L589 290M616 200L603 256M524 219L522 304M524 219L508 285"/>
<path stroke="#61c84d" stroke-width="1.5" d="M315 326L364 344M169 322L242 362M244 200L310 250M169 322L256 382M315 326L393 382M269 336L317 373M255 366L306 395M137 269L232 342M239 306L306 329M137 269L218 323M255 366L320 414M246 234L314 316M269 336L331 392M244 200L334 273M167 214L282 298M313 204L364 294M169 322L254 341M244 200L340 287M315 326L388 367M313 204L362 253M269 336L353 375M255 366L318 374M239 306L336 366M313 204L350 274M257 323L167 214"/>
<path stroke="#c875aa" stroke-width="1.5" d="M328 421L345 413M403 388L348 412M490 397L448 458M358 440L337 439M351 386L379 360M392 406L388 344M430 471L446 442M374 430L380 356M399 303L346 355M384 396L429 376M442 406L428 448M438 340L390 372M489 374L445 411M344 236L328 303M432 395L408 425M449 392L365 447M315 400L325 382M372 384L378 333M305 348L345 315M332 418L301 432M406 424L351 435M409 418L362 472M390 432L358 434M439 321L426 391M431 341L499 293M384 463L389 486M413 495L437 454M380 468L371 436M289 376L337 329M500 370L468 404M434 418L410 472M363 403L448 370"/>
<path stroke="#88b198" stroke-width="1.5" d="M630 335L590 356M549 426L594 397M524 317L503 372M606 376L574 383M654 358L638 402M578 464L608 416M603 228L572 284M614 368L611 409M674 300L670 352M628 360L640 392M498 337L486 386M660 372L649 431M620 383L622 438M538 336L531 411M558 470L574 380M636 413L633 458M512 356L514 424M594 312L572 425M630 399L622 429M644 390L650 412M632 265L631 360M603 449L640 349M586 292L560 327M595 408L572 489M536 295L527 330M534 338L558 389M574 313L536 370M560 318L575 376M540 353L570 418M510 315L510 343M627 251L620 331M668 349L666 385"/>
<path stroke="#5aa0db" stroke-width="2.0" d="M524 219L499 200M575 168L616 200M478 196L524 219M554 236L589 290M524 219L524 190M506 196L524 219M576 264L617 328M621 205L678 248"/>
<path stroke="#5ebe64" stroke-width="1.5" d="M366 269L330 240M315 326L369 329M315 326L332 315M369 257L330 240M167 214L222 231M313 288L267 300M316 328L267 300M353 287L330 240M239 306L276 300M255 126L220 112M260 305L193 269M220 112L267 168M331 271L330 240M389 241L330 240M240 312L193 269M244 200L279 221M239 306L312 314M235 244L193 269M229 293L193 269M315 326L350 336M220 112L256 186M244 200L297 241M269 336L298 323M137 269L199 272M302 309L267 300M169 322L260 326M246 234L281 246M269 336L335 336M239 306L294 321M260 195L220 112M247 285L193 269M169 322L223 312M290 267L267 300M250 309L193 269M235 303L193 269M246 234L318 260M244 200L316 234M220 112L249 175M315 326L327 346M220 112L307 146M291 326L267 300M263 291L193 269M255 366L288 345M167 214L240 252"/>
<path stroke="#5e9ada" stroke-width="2.0" d="M524 219L678 248M617 328L524 219M634 171L524 219M670 314L524 219M589 290L678 248M524 219L638 368M616 200L589 290M616 200L678 248M545 261L524 219"/>
<path stroke="#da674b" stroke-width="2.0" d="M263 381L295 437M240 458L228 411M235 372L240 458M203 447L197 558M328 462L364 578M364 578L321 501M399 530L354 426M399 530L348 465M240 458L247 419M295 437L288 403M295 437L233 372M364 578L355 494M300 409L295 437M225 414L251 370M351 424L358 485M197 558L230 478M266 579L282 494M291 492L301 429M399 530L366 473M193 470L227 412"/>
<path stroke="#c1d041" stroke-width="2.0" d="M627 397L662 456M536 348L509 398M460 484L493 435M517 561L557 483M550 391L563 425M563 425L582 411M460 484L515 425M542 503L517 561M581 362L563 425M575 383L563 425M529 371L509 398M551 361L509 398M601 440L605 490M618 483L628 548M528 650L526 542M558 384L563 425M499 413L460 484M500 445L460 484M555 499L517 561M608 418L605 490M644 414L662 456M623 430L605 490M563 425L564 353M536 380L509 398M546 464L517 561M640 473L628 548M504 406L460 484M625 461L628 548M513 441L460 484M650 392L662 456"/>
<path stroke="#dc625c" stroke-width="2.0" d="M430 453L399 530M295 437L368 400M311 399L240 458M375 378L295 437M376 410L295 437M295 437L391 390M399 418L358 485M300 365L225 414M279 473L197 558M404 489L364 578M330 489L266 579M327 416L240 458M389 406L295 437M334 394L240 458"/>
<path stroke="#53c063" stroke-width="3.5" d="M378 234L330 240"/>
<path stroke="#bda49f" stroke-width="1.5" d="M434 409L421 372M440 483L401 444M474 408L486 405M462 448L435 391M411 444L387 425M399 403L436 402M508 388L560 410M490 311L528 371M433 350L458 366M456 466L421 374M467 420L471 388M466 288L480 324M399 452L420 462M412 430L444 420M504 446L545 480M414 471L448 501M398 424L367 394M446 463L470 496M496 325L540 400M423 426L484 448M498 432L534 451M483 366L492 377M479 352L473 396M428 441L495 476M496 458L485 407M514 364L540 305M493 371L501 434M386 247L411 326M426 462L381 413M491 330L497 353M436 453L492 466M432 444L441 457M492 508L475 436M542 403L554 324M552 283L538 322M444 422L466 414M379 372L422 381M495 531L478 472M400 267L439 365M463 388L518 441"/>
<path stroke="#44c9d0" stroke-width="1.5" d="M388 112L374 144M515 140L469 165M408 234L361 204M548 174L494 190M340 128L321 171M426 142L386 182M424 195L401 206M455 129L408 172M451 74L417 137M346 112L388 112M340 128L296 150M461 153L526 104M451 74L399 106M455 129L390 164M361 160L426 142M424 195L373 174M408 234L373 250M443 145L526 104M451 74L398 132M340 128L333 178M451 74L406 140M466 159L548 174M451 74L416 107M340 128L316 146M398 188L426 142M451 74L380 136M388 112L339 152M408 234L354 243M426 142L380 157"/>
<path stroke="#4cb8df" stroke-width="2.5" d="M469 110L487 146"/>
<path stroke="#65b851" stroke-width="3.0" d="M321 289L330 240"/>
<path stroke="#c1d041" stroke-width="3.0" d="M563 425L570 391M576 369L563 425M519 476L517 561M476 418L460 484"/>
<path stroke="#b3824d" stroke-width="1.5" d="M204 336L222 397M193 420L193 370M200 381L206 291M217 377L209 341M224 338L222 263M196 314L210 364M212 428L230 385M196 486L195 414M243 346L254 462M248 502L230 424M144 318L192 388M186 346L240 391M158 356L199 408M236 412L178 386M170 413L205 436M204 390L222 424M214 430L187 402M180 342L186 406M264 477L240 408M254 330L270 438M282 386L288 412M267 372L281 404M276 377L317 431M324 442L326 374M339 509L315 439M232 380L264 408M335 439L312 392M298 470L308 393M210 518L250 425M242 394L269 416M275 401L285 419M256 302L273 398M266 437L242 381M270 318L282 378M270 336L283 386M240 382L240 420M386 414L367 356M236 385L246 357M289 299L324 392M357 428L378 479M216 353L256 395M266 509L266 440M278 392L259 425M265 396L314 487M254 397L247 428M351 422L298 371M289 449L257 389M214 494L232 429M319 418L359 474"/>
<path stroke="#889fe3" stroke-width="2.0" d="M492 205L512 271M418 178L402 230M454 220L456 292"/>
<path stroke="#45c4e1" stroke-width="1.5" d="M548 128L526 104M408 234L437 230M451 74L506 134M515 140L517 160M424 195L449 201M542 150L526 104M422 139L388 112M542 185L548 174M564 140L526 104M451 74L474 121M451 74L466 127M495 147L455 129M474 157L426 142M451 74L497 98M340 128L424 158M549 160L526 104M455 129L488 169M451 74L498 148M409 146L340 128M426 142L467 179M340 128L402 168M558 203L548 174M426 142L489 169M460 226L408 234M553 121L526 104M496 179L455 129M451 74L491 120M451 74L480 90M455 129L511 159M565 180L548 174M478 150L426 142"/>
<path stroke="#a5c06d" stroke-width="1.5" d="M590 356L549 377M505 455L549 426M503 372L482 428M574 383L541 390M638 402L621 446M547 513L578 464M572 284L540 341M611 409L608 450M670 352L666 404M640 392L651 424M486 386L473 435M649 431L638 489M622 438L625 493M531 411L524 486M543 560L558 470M633 458L630 503M514 424L516 493M572 425L550 538M622 429L613 460M650 412L656 434M631 360L630 454M565 550L603 449M560 327L535 362M572 489L550 569M527 330L518 364M558 389L582 440M536 370L498 427M575 376L590 433M570 418L599 483M510 343L510 370M620 331L612 411M666 385L664 420"/>
<path stroke="#dc625c" stroke-width="2.5" d="M352 382L295 437"/>
<path stroke="#6ca1c4" stroke-width="3.5" d="M524 219L533 270"/>
<path stroke="#d3c82f" stroke-width="1.5" d="M402 466L460 484M460 484L435 484M571 544L628 548M517 561L477 542M562 556L628 548M471 420L509 398M528 650L495 620M596 475L662 456M528 650L486 632M528 650L456 602M545 512L605 490M517 561L489 539M517 561L460 544M460 484L446 481M431 438L509 398M517 561L454 566M556 457L662 456M460 484L426 490M460 484L412 508M517 561L468 548M438 402L509 398M460 557L517 561M436 538L517 561M448 443L509 398M460 484L418 486M462 426L509 398M543 489L605 490M520 550L628 548M417 500L460 484M444 524L517 561M454 422L509 398M560 532L628 548M394 480L460 484M587 487L662 456M430 416L509 398M460 484L388 516"/>
<path stroke="#61c84d" stroke-width="2.5" d="M220 112L280 205M260 323L193 269M167 214L266 267M193 269L272 301M274 342L193 269M330 240L399 302M220 112L292 184M315 326L377 351M330 240L413 294M315 346L267 300M330 240L404 317M330 365L267 300M379 342L330 240M220 112L316 207"/>
<path stroke="#a0d13a" stroke-width="1.5" d="M412 362L460 380M315 403L388 444M376 299L443 348M343 442L430 501M472 437L550 492M365 410L413 447M358 425L409 454M327 415L422 488M374 352L442 375M299 376L380 430M386 463L452 512M382 398L449 479M393 448L455 505M424 345L515 418M398 381L513 464M415 383L466 472M339 360L424 379M436 374L532 461M460 408L532 449M411 301L460 350M437 413L521 452M382 382L446 390M434 427L531 488M387 344L424 414M437 541L347 432"/>
<path stroke="#48c8ac" stroke-width="2.5" d="M393 84L336 93"/>
<path stroke="#dba837" stroke-width="2.0" d="M430 507L445 496M512 440L460 455M440 570L479 565M405 478L350 471M448 535L378 510M458 546L488 553M495 442L427 459M450 464L528 477M462 492L545 520M436 508L412 531M478 446L570 451M523 437L484 449M437 560L357 560M469 597L411 544M472 458L380 492M436 488L473 443M395 502L329 521M454 464L482 431M374 428L442 413M489 464L414 502M478 422L394 419M494 455L425 486M470 436L378 448M422 474L514 482M502 510L554 500M503 446L442 467M465 471L366 518M434 503L531 526"/>
<path stroke="#81cc43" stroke-width="3.0" d="M375 279L420 319M294 225L368 337M415 362L341 331"/>
<path stroke="#a68ed1" stroke-width="2.5" d="M371 272L385 282M532 336L482 312M457 365L425 334M532 336L454 280"/>
<path stroke="#a5c06d" stroke-width="2.0" d="M593 338L627 397M562 299L536 348M493 435L525 387M557 483L598 405M537 356L550 391M582 411L600 396M515 425L569 366M567 444L542 503M598 298L581 362M588 340L575 383M549 344L529 371M594 323L551 361M597 390L601 440M608 419L618 483M526 542L526 434M554 343L558 384M538 342L499 413M539 406L500 445M594 437L555 499M610 345L608 418M626 373L644 414M642 370L623 430M564 353L566 281M563 363L536 380M576 366L546 464M653 398L640 473M547 328L504 406M622 374L625 461M565 399L513 441M639 328L650 392"/>
<path stroke="#7d92dd" stroke-width="2.0" d="M507 256L490 292M561 313L575 301M595 234L574 268M506 227L488 235M558 221L500 241M508 267L493 316M576 241L536 282M483 266L443 312M605 257L532 266M523 327L556 308M605 292L642 270M538 288L487 286"/>
<path stroke="#a5c06d" stroke-width="3.0" d="M570 391L576 357M590 312L576 369M520 390L519 476M492 352L476 418"/>
<path stroke="#77cf9d" stroke-width="2.0" d="M466 155L480 236M482 203L509 277M447 282L486 330M490 178L528 282M556 300L552 237M459 252L494 310M476 269L432 191M493 294L510 199M495 192L540 311M527 211L539 282M449 247L472 352M522 332L524 218M435 228L443 313M370 217L400 306M504 170L556 265M470 237L486 345M384 236L428 344M456 218L458 306M470 218L489 362"/>
<path stroke="#bed642" stroke-width="2.0" d="M494 317L509 398M536 351L563 425M524 377L563 425M566 386L605 490M563 425L559 362M528 368L563 425M563 425L519 347M460 484L477 389M584 430L628 548M551 354L563 425M494 456L517 561M517 561L519 447M452 399L460 484M430 395L460 484M609 360L662 456M502 453L517 561M473 453L517 561M459 395L460 484M508 506L528 650"/>
<path stroke="#b286e4" stroke-width="2.0" d="M457 365L532 336M532 336L385 282M457 365L385 282"/>
<path stroke="#c1d041" stroke-width="1.5" d="M549 377L509 398M460 484L505 455M482 428L460 484M541 390L509 398M621 446L605 490M517 561L547 513M540 341L509 398M608 450L605 490M666 404L662 456M651 424L662 456M473 435L460 484M638 489L628 548M625 493L628 548M524 486L517 561M528 650L543 560M630 503L628 548M516 493L517 561M550 538L528 650M613 460L605 490M656 434L662 456M630 454L628 548M528 650L565 550M535 362L509 398M550 569L528 650M518 364L509 398M582 440L605 490M498 427L460 484M590 433L605 490M599 483L628 548M510 370L509 398M612 411L605 490M664 420L662 456"/>
<path stroke="#4cc788" stroke-width="1.5" d="M359 176L344 208M422 190L376 215M314 173L267 143M439 207L384 223M303 214L285 257M346 221L307 261M377 217L354 228M361 214L314 257M383 200L349 263M262 112L304 112M253 171L210 192M332 251L396 202M348 137L296 168M324 199L258 234M232 196L296 178M322 154L271 133M338 267L302 284M276 228L360 186M345 190L292 248M327 227L321 276M360 205L314 270M302 128L384 143M382 139L348 172M292 164L268 182M343 280L370 234M310 198L240 260M290 191L242 230M300 252L247 260M335 171L290 186"/>
<path stroke="#c4b971" stroke-width="2.0" d="M442 434L423 383M487 463L502 512M513 420L462 415M524 402L485 380M521 367L515 383M483 382L496 390M461 466L461 448M447 340L478 369M503 524L490 486M459 424L460 454M456 368L458 426M531 428L568 459M580 442L604 495M495 386L550 438M542 456L585 502M506 415L567 482M569 414L587 452M541 408L518 390M484 406L501 484M524 366L544 396M517 429L471 433M462 297L512 361M492 428L528 426M597 396L630 426M564 380L565 335M506 410L449 394M524 369L593 413M529 572L530 493"/>
<path stroke="#d0d82c" stroke-width="2.0" d="M528 650L517 561M509 398L605 490M605 490L628 548M528 650L460 484M460 484L662 456M662 456L605 490M509 398L628 548M517 561L662 456M662 456L628 548M528 650L605 490M509 398L662 456M528 650L509 398"/>
<path stroke="#4cb8df" stroke-width="2.0" d="M475 181L450 162M492 106L534 137M386 151L432 174M486 128L520 182M525 162L525 133M472 152L489 174M492 137L534 201M508 118L564 161"/>
<path stroke="#6897db" stroke-width="1.5" d="M617 328L596 330M524 219L534 226M634 171L609 212M670 314L636 319M514 241L524 219M623 278L678 248M524 219L511 253M524 219L494 248M589 290L557 320M483 206L524 219M616 200L575 213M555 280L589 290M670 314L599 306M616 200L578 253M617 328L559 316M524 219L487 274M545 261L505 266M670 314L617 326M589 290L544 301M624 289L678 248M634 171L572 199M511 288L516 300M612 360L638 368M498 272L524 219M617 328L577 337M545 261L542 280M511 288L498 307M593 367L638 368M638 368L575 347M524 219L476 255M536 327L589 290M616 200L604 211M511 288L480 286M612 256L592 276M589 290L532 318M622 249L678 248M617 328L578 349M545 261L523 287"/>
<path stroke="#88b198" stroke-width="2.5" d="M520 264L516 308M620 337L649 293M604 352L590 376M591 290L566 380M550 301L576 384M544 287L564 355M643 341L616 369M571 357L553 425"/>
<path stroke="#a68ed1" stroke-width="2.0" d="M344 240L385 282M452 251L422 248M356 287L385 282M337 279L385 282M408 334L388 311M457 365L391 341M462 412L429 369M361 168L353 186M532 336L448 320M532 336L466 327M457 365L410 349M457 365L398 302M362 405L354 364M452 251L394 216M402 337L462 412M379 441L367 391M452 251L387 256M441 306L532 336"/>
<path stroke="#d3c82f" stroke-width="3.5" d="M563 425L496 428"/>
<path stroke="#bed642" stroke-width="3.0" d="M535 337L563 425"/>
<path stroke="#53c063" stroke-width="2.0" d="M167 214L256 215M415 258L330 240M319 134L220 112M220 112L334 146M407 272L330 240M315 326L367 299M299 252L193 269M354 275L267 300M314 205L244 200M384 245L330 240M310 284L239 306M292 274L193 269M220 112L312 157M406 222L330 240M314 264L193 269M169 322L258 296M348 297L267 300M324 127L220 112M299 284L193 269M375 252L330 240M370 287L267 300M319 166L220 112M332 163L220 112M312 280L193 269"/>
<path stroke="#4cc788" stroke-width="2.5" d="M336 93L278 103"/>
<path stroke="#6897db" stroke-width="2.0" d="M524 219L507 256M575 301L589 290M616 200L595 234M524 219L506 227M616 200L558 221M524 219L508 267M616 200L576 241M524 219L483 266M678 248L605 257M556 308L589 290M642 270L678 248M589 290L538 288"/>
<path stroke="#81cc43" stroke-width="2.5" d="M280 205L340 298M327 376L260 323M266 267L365 320M272 301L351 334M355 415L274 342M399 302L468 365M292 184L364 255M377 351L439 376M413 294L496 348M364 392L315 346M404 317L479 394M392 430L330 365M429 445L379 342M316 207L412 302"/>
<path stroke="#dba837" stroke-width="1.5" d="M343 449L402 466M435 484L409 484M514 539L571 544M477 542L438 523M496 563L562 556M434 442L471 420M495 620L463 590M530 493L596 475M486 632L446 614M456 602L384 554M484 534L545 512M489 539L460 517M460 544L404 527M446 481L432 478M353 478L431 438M454 566L392 570M451 457L556 457M426 490L391 497M412 508L363 532M468 548L419 535M367 406L438 402M402 554L460 557M355 516L436 538M388 488L448 443M418 486L376 488M415 454L462 426M482 488L543 489M412 553L520 550M374 515L417 500M371 487L444 524M400 445L454 422M493 516L560 532M327 477L394 480M513 517L587 487M351 434L430 416M388 516L315 547"/>
<path stroke="#76ae88" stroke-width="2.0" d="M261 155L302 198M391 245L360 242M296 296L326 291M241 272L289 276M369 287L349 263M325 317L259 293M396 326L363 283M346 204L338 222M363 303L278 286M400 318L333 309M362 332L314 316M338 239L279 176M346 322L338 281M336 182L278 147M280 187L341 262M354 340L342 290M322 260L258 264M258 245L350 275"/>
</g>
<g fill="none" stroke-linecap="butt" opacity="0.85">
<path stroke="#44c9d0" stroke-width="2.5" d="M536 45L484 94M536 45L457 62"/>
<path stroke="#8e9ead" stroke-width="2.0" d="M351 232L250 214M216 230L300 256M411 296L290 256M354 318L252 271"/>
<path stroke="#8c9d4f" stroke-width="2.0" d="M176 174L216 262M149 385L198 402M214 391L174 368M135 339L164 304M172 354L220 327M204 324L267 282M160 351L176 310M178 384L185 327M191 306L206 209M166 285L164 357M214 400L241 350M166 408L180 338M200 221L180 329M204 423L235 362M160 297L154 380"/>
<path stroke="#d3c82f" stroke-width="2.0" d="M460 484L365 465M517 561L407 523M460 484L377 471M386 488L460 484M428 546L517 561M528 650L470 660M463 593L517 561M420 535L460 484M563 425L512 491M460 484L441 519M429 518L460 484M471 576L517 561M408 522L460 484M451 580L517 561"/>
<path stroke="#d3c82f" stroke-width="3.0" d="M563 425L457 455"/>
<path stroke="#d0d82c" stroke-width="2.0" d="M510 708L517 561M510 708L460 484M510 708L563 425M668 662L517 561M668 662L460 484M563 425L668 662M517 561L585 657M460 484L585 657M517 561L720 603M460 484L720 603M720 603L605 490M720 603L628 548M720 603L662 456M528 650L720 603M720 603L509 398M563 425L711 498M460 484L711 498M575 595L517 561M575 595L628 548M575 595L460 484M466 619L517 561M460 484L466 619M628 548L634 610M517 561L634 610"/>
<path stroke="#45c4e1" stroke-width="2.5" d="M533 88L536 45"/>
<path stroke="#e2893e" stroke-width="2.5" d="M320 417L198 413M362 462L262 481M300 515L220 530M328 554L234 550"/>
<path stroke="#52c652" stroke-width="1.5" d="M281 22L193 269M315 326L281 22M136 86L47 176M169 322L136 86M136 86L167 214M136 86L315 326M167 214L88 144M47 176L88 144M169 322L47 176M169 166L47 176M76 254L267 300M167 214L76 254M169 322L61 336M61 336L267 300M134 346L267 300M169 322L134 346"/>
<path stroke="#88b198" stroke-width="1.5" d="M690 413L681 427"/>
<path stroke="#53c063" stroke-width="2.5" d="M166 187L47 176"/>
<path stroke="#c1d041" stroke-width="1.5" d="M672 442L662 456"/>
<path stroke="#a5c06d" stroke-width="2.0" d="M597 418L632 412M604 398L557 398M652 444L629 468"/>
<path stroke="#53acdd" stroke-width="2.5" d="M527 176L530 132"/>
<path stroke="#76ae88" stroke-width="1.5" d="M324 79L366 136"/>
<path stroke="#e2893e" stroke-width="2.0" d="M269 446L173 427M297 485L187 447M293 458L210 446M237 496L311 492M251 515L340 530M414 669L356 678M354 656L408 624M340 637L380 586M460 557L409 623M422 554L403 588M365 586L397 552M379 605L425 590M304 598L356 560M319 618L385 599"/>
<path stroke="#5c9fc9" stroke-width="2.5" d="M524 219L404 208"/>
<path stroke="#5c9fc9" stroke-width="2.0" d="M427 186L524 219M616 200L474 194"/>
<path stroke="#56b585" stroke-width="2.0" d="M233 120L330 153M332 188L189 182"/>
<path stroke="#76ae88" stroke-width="2.0" d="M250 214L148 195M132 203L216 230M290 256L168 216M252 271L150 224"/>
<path stroke="#a68ed1" stroke-width="1.5" d="M409 194L452 251"/>
<path stroke="#52c652" stroke-width="2.5" d="M47 176L330 240"/>
<path stroke="#52c652" stroke-width="2.0" d="M281 22L330 240M136 86L220 112M136 86L193 269M136 86L267 300M136 86L330 240M220 112L88 144M88 144L330 240M88 144L193 269M47 176L220 112M167 214L47 176M47 176L193 269M47 176L267 300M315 326L47 176M76 254L330 240M76 254L193 269M76 254L220 112M220 112L61 336M61 336L193 269M61 336L330 240M100 368L193 269M100 368L267 300M100 368L330 240M100 368L220 112M134 346L193 269M134 346L330 240"/>
<path stroke="#4cc788" stroke-width="1.5" d="M132 160L218 144"/>
<path stroke="#b3824d" stroke-width="2.5" d="M204 434L246 370M188 469L235 393"/>
<path stroke="#81cc43" stroke-width="3.0" d="M305 301L176 239"/>
<path stroke="#65b851" stroke-width="2.5" d="M288 304L330 240M282 316L330 240"/>
<path stroke="#8c9d4f" stroke-width="1.5" d="M146 344L123 365M256 347L196 367M198 332L158 357M210 376L166 387"/>
<path stroke="#d0d82c" stroke-width="2.5" d="M563 425L720 603M563 425L575 595"/>
<path stroke="#dba837" stroke-width="2.5" d="M442 421L320 417M463 444L362 462M380 500L300 515M423 557L328 554"/>
<path stroke="#4cc788" stroke-width="2.5" d="M433 142L382 191M378 79L299 96"/>
<path stroke="#a0d13a" stroke-width="3.0" d="M434 363L305 301"/>
<path stroke="#5aa0db" stroke-width="2.5" d="M524 219L527 176"/>
<path stroke="#da674b" stroke-width="1.5" d="M100 387L77 408M136 388L77 408M118 383L77 408M122 398L77 408"/>
<path stroke="#dba837" stroke-width="1.5" d="M482 664L454 619M473 676L437 643M415 599L440 609M432 575L449 597"/>
<path stroke="#50c664" stroke-width="2.0" d="M120 164L47 176M336 193L330 240M245 109L220 112M328 204L330 240"/>
<path stroke="#c1d041" stroke-width="2.0" d="M563 425L597 418M557 398L509 398M629 468L605 490"/>
<path stroke="#dba837" stroke-width="3.0" d="M457 455L352 486"/>
<path stroke="#e2893e" stroke-width="1.5" d="M454 619L427 575M437 643L400 611M389 589L415 599M416 553L432 575"/>
<path stroke="#81cc43" stroke-width="2.5" d="M150 253L254 330M332 396L216 382"/>
<path stroke="#d76a83" stroke-width="2.0" d="M154 377L231 346M267 387L172 398"/>
<path stroke="#a48ee3" stroke-width="2.0" d="M423 223L385 282"/>
<path stroke="#c0d530" stroke-width="3.0" d="M563 425L434 363"/>
<path stroke="#889fe3" stroke-width="2.0" d="M460 164L423 223"/>
<path stroke="#56b585" stroke-width="2.5" d="M285 198L166 187"/>
<path stroke="#50c664" stroke-width="2.5" d="M382 191L330 240M299 96L220 112"/>
<path stroke="#8e9ead" stroke-width="1.5" d="M366 136L409 194"/>
<path stroke="#ea6946" stroke-width="1.5" d="M427 575L399 530M400 611L364 578M364 578L389 589M399 530L416 553"/>
<path stroke="#88b198" stroke-width="2.0" d="M632 412L666 405M652 398L604 398M676 422L652 444"/>
<path stroke="#44c9d0" stroke-width="2.0" d="M340 128L266 140M354 52L348 99M320 98L295 102M320 98L323 133"/>
<path stroke="#da674b" stroke-width="2.5" d="M162 500L204 434M140 546L188 469"/>
<path stroke="#48c8ac" stroke-width="2.5" d="M484 94L433 142M457 62L378 79"/>
<path stroke="#e2893e" stroke-width="3.0" d="M352 486L246 516"/>
<path stroke="#d3c82f" stroke-width="2.5" d="M563 425L442 421M563 425L463 444M460 484L380 500M517 561L423 557"/>
<path stroke="#d3c82f" stroke-width="1.5" d="M510 708L482 664M510 708L473 676M440 609L466 619M449 597L466 619"/>
<path stroke="#b980d0" stroke-width="2.0" d="M308 314L385 282M457 365L362 376"/>
<path stroke="#48c8ac" stroke-width="1.5" d="M218 144L303 128"/>
<path stroke="#5ebe64" stroke-width="1.5" d="M281 22L324 79"/>
<path stroke="#59aaa7" stroke-width="2.5" d="M404 208L285 198"/>
<path stroke="#50c664" stroke-width="1.5" d="M47 176L132 160"/>
<path stroke="#45c4e1" stroke-width="2.0" d="M536 45L570 72M556 84L536 45"/>
<path stroke="#5e9ada" stroke-width="2.5" d="M524 219L701 186M524 219L670 152"/>
<path stroke="#d0d82c" stroke-width="1.5" d="M528 650L510 708M510 708L575 595M510 708L720 603M510 708L628 548M510 708L466 619M668 662L720 603M668 662L628 548M668 662L575 595M575 595L585 657M528 650L585 657M720 603L585 657M575 595L720 603M720 603L634 610M466 619L720 603M711 498L662 456M711 498L509 398M528 650L575 595M575 595L634 610M528 650L466 619M528 650L634 610"/>
<path stroke="#50c1e2" stroke-width="2.0" d="M536 45L498 104"/>
<path stroke="#dba837" stroke-width="2.0" d="M365 465L269 446M407 523L297 485M377 471L293 458M311 492L386 488M340 530L428 546M470 660L414 669M408 624L463 593M380 586L420 535M512 491L460 557M441 519L422 554M397 552L429 518M425 590L471 576M356 560L408 522M385 599L451 580"/>
<path stroke="#61c84d" stroke-width="2.0" d="M100 368L190 397M241 365L134 346"/>
<path stroke="#8c9d4f" stroke-width="2.5" d="M246 370L288 304M235 393L282 316"/>
<path stroke="#4cb8df" stroke-width="2.5" d="M530 132L533 88"/>
<path stroke="#53c063" stroke-width="2.0" d="M136 86L233 120M189 182L47 176"/>
<path stroke="#48c8ac" stroke-width="2.0" d="M266 140L193 152M348 99L342 146M295 102L270 105M323 133L325 169"/>
<path stroke="#53acdd" stroke-width="2.0" d="M603 98L637 125M596 161L576 122"/>
<path stroke="#6cb0e2" stroke-width="2.0" d="M498 104L460 164"/>
<path stroke="#61c84d" stroke-width="2.5" d="M47 176L150 253M216 382L100 368"/>
<path stroke="#e65f5d" stroke-width="2.0" d="M77 408L154 377M172 398L77 408"/>
<path stroke="#5e9ada" stroke-width="1.5" d="M700 398L678 248M589 290L700 398M617 328L700 398M670 314L700 398M700 398L638 368M725 298L678 248M725 298L589 290M725 298L617 328M725 298L670 314M725 298L616 200M725 298L545 261M725 298L638 368M725 298L700 398M725 298L670 152M617 328L680 355M680 355L589 290M680 355L678 248M670 314L680 355M634 171L701 186M705 234L678 248M616 200L705 234M634 171L670 152M616 124L670 152M569 138L670 152M616 124L569 138M616 124L634 171"/>
<path stroke="#a0d13a" stroke-width="2.0" d="M280 426L370 455M456 405L348 385"/>
<path stroke="#42cae2" stroke-width="2.0" d="M451 74L536 45M536 45L526 104M536 45L426 142M455 129L536 45M451 74L426 35M451 74L354 52M451 74L320 98"/>
<path stroke="#b3824d" stroke-width="1.5" d="M123 365L100 387M196 367L136 388M158 357L118 383M166 387L122 398"/>
<path stroke="#ea6946" stroke-width="2.5" d="M198 413L77 408M262 481L162 500M220 530L140 546M234 550L140 546"/>
<path stroke="#c875aa" stroke-width="2.0" d="M231 346L308 314M362 376L267 387"/>
<path stroke="#44c9d0" stroke-width="1.5" d="M303 128L388 112"/>
<path stroke="#5aa0db" stroke-width="2.0" d="M637 125L670 152M616 200L596 161"/>
<path stroke="#a5c06d" stroke-width="1.5" d="M681 427L672 442"/>
<path stroke="#da674b" stroke-width="2.0" d="M255 349L295 437M246 420L295 437M295 437L255 414M77 408L106 374M77 408L124 381M77 408L140 366M126 433L143 392M162 500L170 442M162 500L176 403M163 428L162 500M162 500L188 450M140 546L153 477M160 438L140 546M140 546L172 484M147 463L140 546"/>
<path stroke="#c0d530" stroke-width="2.5" d="M357 407L460 484M563 425L447 411"/>
<path stroke="#ee5a4a" stroke-width="2.0" d="M295 437L77 408M295 437L126 433M295 437L52 490M162 500L295 437M162 500L240 458M162 500L140 546M162 500L399 530M162 500L364 578M240 458L140 546M295 437L140 546M399 530L140 546M364 578L140 546M295 437L166 660M295 437L300 688M300 688L240 458M300 688L364 578M399 530L300 688M295 437L384 623M333 620L295 437M252 636L295 437"/>
<path stroke="#ea6946" stroke-width="3.0" d="M246 516L140 546"/>
<path stroke="#c0d530" stroke-width="2.0" d="M370 455L460 484M563 425L456 405"/>
<path stroke="#a68ed1" stroke-width="2.0" d="M452 251L351 232M300 256L385 282M532 336L411 296M457 365L354 318"/>
<path stroke="#ee5a4a" stroke-width="1.5" d="M225 414L77 408M240 458L77 408M193 470L77 408M52 490L77 408M399 530L77 408M126 433L240 458M193 470L126 433M162 500L126 433M225 414L126 433M126 433L77 408M126 433L140 546M162 500L52 490M162 500L193 470M162 500L197 558M162 500L287 546M162 500L225 414M162 500L266 579M197 558L140 546M266 579L140 546M99 548L140 546M140 546L77 408M162 500L99 548M99 548L240 458M266 579L82 627M364 578L82 627M166 660L197 558M166 660L266 579M166 660L364 578M252 636L166 660M399 530L166 660M287 546L166 660M252 636L300 688M333 620L300 688M300 688L266 579M300 688L287 546M300 688L197 558M364 578L384 623M399 530L384 623M333 620L364 578M333 620L399 530M252 636L333 620M333 620L266 579M252 636L266 579M252 636L364 578M252 636L240 458M252 636L399 530M252 636L197 558"/>
<path stroke="#61c84d" stroke-width="3.0" d="M176 239L47 176"/>
<path stroke="#5ebe64" stroke-width="2.0" d="M148 195L47 176M47 176L132 203M168 216L47 176M150 224L47 176"/>
<path stroke="#65b851" stroke-width="1.5" d="M169 322L146 344M315 326L256 347M239 306L198 332M255 366L210 376"/>
<path stroke="#5e9ada" stroke-width="2.0" d="M524 219L700 398M725 298L524 219M701 186L670 152M616 200L701 186M701 186L678 248M617 328L701 186M705 234L524 219M616 200L670 152M670 152L678 248M670 152L589 290M616 124L524 219M616 124L616 200M616 124L589 290"/>
<path stroke="#ea6946" stroke-width="2.0" d="M173 427L77 408M187 447L77 408M210 446L126 433M162 500L237 496M162 500L251 515M356 678L300 688M300 688L354 656M300 688L340 637M409 623L358 690M403 588L384 623M333 620L365 586M333 620L379 605M252 636L304 598M252 636L319 618"/>
<path stroke="#6ca1c4" stroke-width="2.0" d="M666 405L700 398M700 398L652 398M700 398L676 422"/>
<path stroke="#59aaa7" stroke-width="2.0" d="M330 153L427 186M474 194L332 188"/>
<path stroke="#a0d13a" stroke-width="2.5" d="M254 330L357 407M447 411L332 396"/>
<path stroke="#65b851" stroke-width="2.0" d="M136 86L176 174M100 368L149 385M174 368L134 346M164 304L193 269M220 327L267 300M267 282L330 240M176 310L193 269M185 327L193 269M206 209L220 112M167 214L166 285M241 350L267 300M180 338L193 269M220 112L200 221M235 362L267 300M167 214L160 297"/>
<path stroke="#4cb8df" stroke-width="2.0" d="M570 72L603 98M576 122L556 84"/>
<path stroke="#6ca1c4" stroke-width="1.5" d="M700 398L690 413"/>
<path stroke="#81cc43" stroke-width="2.0" d="M190 397L280 426M348 385L241 365"/>
<path stroke="#b3824d" stroke-width="2.0" d="M216 262L255 349M198 402L246 420M255 414L214 391M106 374L135 339M124 381L172 354M140 366L204 324M143 392L160 351M170 442L178 384M176 403L191 306M164 357L163 428M188 450L214 400M153 477L166 408M180 329L160 438M172 484L204 423M154 380L147 463"/>
<path stroke="#4cc788" stroke-width="2.0" d="M193 152L120 164M342 146L336 193M270 105L245 109M325 169L328 204"/>
<path stroke="#42cae2" stroke-width="1.5" d="M536 45L388 112M515 140L536 45M340 128L426 35M426 35L426 142M426 35L388 112M354 52L320 98M354 52L340 128M354 52L388 112M354 52L426 142M320 98L340 128"/>
</g>
<g filter="url(#hb)" opacity="0.3">
<circle cx="536" cy="45" r="12.5" fill="#54cee4"/>
<circle cx="399" cy="530.5" r="12.5" fill="#f06056"/>
<circle cx="527.5" cy="650" r="12.5" fill="#d6de3e"/>
<circle cx="240" cy="458.5" r="13.0" fill="#f06056"/>
<circle cx="662" cy="456" r="13.0" fill="#d6de3e"/>
<circle cx="678" cy="248.5" r="13.5" fill="#64a0de"/>
<circle cx="457" cy="365" r="13.5" fill="#ba94e4"/>
<circle cx="589" cy="289.5" r="15.0" fill="#64a0de"/>
<circle cx="385" cy="282.5" r="15.0" fill="#ba94e4"/>
<circle cx="616" cy="200" r="15.0" fill="#64a0de"/>
<circle cx="628" cy="548" r="15.2" fill="#d6de3e"/>
<circle cx="267" cy="300" r="15.5" fill="#60ce60"/>
<circle cx="532.5" cy="336.5" r="16.0" fill="#ba94e4"/>
<circle cx="605" cy="490.5" r="16.0" fill="#d6de3e"/>
<circle cx="451" cy="74" r="17.0" fill="#54cee4"/>
<circle cx="509" cy="398" r="18.5" fill="#d6de3e"/>
<circle cx="193" cy="269" r="19.0" fill="#60ce60"/>
<circle cx="295" cy="437" r="20.0" fill="#f06056"/>
<circle cx="220" cy="112.5" r="22.0" fill="#60ce60"/>
<circle cx="460.5" cy="484" r="22.5" fill="#d6de3e"/>
<circle cx="517" cy="561" r="23.5" fill="#d6de3e"/>
<circle cx="523.5" cy="219" r="25.0" fill="#64a0de"/>
<circle cx="330" cy="239.5" r="31.0" fill="#60ce60"/>
<circle cx="563" cy="425" r="37.5" fill="#d6de3e"/>
</g>
<g opacity="0.85">
<circle cx="281" cy="22" r="3.5" fill="url(#gG)"/>
<circle cx="88.5" cy="144" r="4" fill="url(#gG)"/>
<circle cx="169" cy="166" r="4" fill="url(#gG)"/>
<circle cx="313" cy="204.5" r="4" fill="url(#gG)"/>
<circle cx="61" cy="336" r="4" fill="url(#gG)"/>
<circle cx="134" cy="345.5" r="4" fill="url(#gG)"/>
<circle cx="255" cy="365.5" r="4" fill="url(#gG)"/>
<circle cx="388" cy="112.5" r="4" fill="url(#gC)"/>
<circle cx="548" cy="174" r="4" fill="url(#gC)"/>
<circle cx="569" cy="137.5" r="4" fill="url(#gB)"/>
<circle cx="725" cy="298" r="4" fill="url(#gB)"/>
<circle cx="485" cy="308" r="4" fill="url(#gP)"/>
<circle cx="422" cy="430.5" r="4" fill="url(#gP)"/>
<circle cx="126" cy="433" r="4" fill="url(#gR)"/>
<circle cx="321.5" cy="509.5" r="4" fill="url(#gR)"/>
<circle cx="287" cy="546.5" r="4" fill="url(#gR)"/>
<circle cx="170" cy="610.5" r="4" fill="url(#gR)"/>
<circle cx="333" cy="619.5" r="4" fill="url(#gR)"/>
<circle cx="166" cy="659.5" r="4" fill="url(#gR)"/>
<circle cx="510" cy="708" r="4" fill="url(#gY)"/>
<circle cx="668" cy="662" r="4" fill="url(#gY)"/>
<circle cx="711" cy="498" r="4" fill="url(#gY)"/>
<circle cx="466" cy="619" r="4" fill="url(#gY)"/>
<circle cx="76" cy="254.5" r="4" fill="url(#gG)"/>
<circle cx="189.5" cy="351" r="4" fill="url(#gG)"/>
<circle cx="515" cy="140" r="4" fill="url(#gC)"/>
<circle cx="424.5" cy="195" r="4" fill="url(#gC)"/>
<circle cx="705" cy="233.5" r="4" fill="url(#gB)"/>
<circle cx="680" cy="355" r="4" fill="url(#gB)"/>
<circle cx="612" cy="256" r="4" fill="url(#gB)"/>
<circle cx="335.5" cy="364" r="4" fill="url(#gP)"/>
<circle cx="567" cy="245" r="4" fill="url(#gP)"/>
<circle cx="474" cy="356" r="4" fill="url(#gP)"/>
<circle cx="52.5" cy="490" r="4" fill="url(#gR)"/>
<circle cx="99" cy="547.5" r="4" fill="url(#gR)"/>
<circle cx="82.5" cy="627" r="4" fill="url(#gR)"/>
<circle cx="384" cy="623" r="4" fill="url(#gR)"/>
<circle cx="404" cy="472.5" r="4" fill="url(#gR)"/>
<circle cx="320.5" cy="98" r="4.5" fill="url(#gC)"/>
<circle cx="426" cy="35" r="4.5" fill="url(#gC)"/>
<circle cx="357.5" cy="689.5" r="4.5" fill="url(#gR)"/>
<circle cx="585" cy="657" r="4.5" fill="url(#gY)"/>
<circle cx="246" cy="234.5" r="4.8" fill="url(#gG)"/>
<circle cx="361" cy="168.5" r="4.8" fill="url(#gP)"/>
<circle cx="700" cy="398.5" r="5" fill="url(#gB)"/>
<circle cx="379" cy="441" r="5" fill="url(#gP)"/>
<circle cx="193" cy="470" r="5" fill="url(#gR)"/>
<circle cx="354" cy="52" r="5" fill="url(#gC)"/>
<circle cx="408" cy="234" r="5" fill="url(#gC)"/>
<circle cx="511" cy="287.5" r="5" fill="url(#gB)"/>
<circle cx="291" cy="492.5" r="5" fill="url(#gR)"/>
<circle cx="137" cy="269" r="5.5" fill="url(#gG)"/>
<circle cx="269" cy="336" r="5.5" fill="url(#gG)"/>
<circle cx="616.5" cy="124.5" r="5.5" fill="url(#gB)"/>
<circle cx="407.5" cy="334.5" r="5.5" fill="url(#gP)"/>
<circle cx="634" cy="610" r="5.5" fill="url(#gY)"/>
<circle cx="225" cy="413.5" r="5.7" fill="url(#gR)"/>
<circle cx="136.5" cy="86.5" r="6" fill="url(#gG)"/>
<circle cx="169" cy="322" r="6" fill="url(#gG)"/>
<circle cx="100" cy="367.5" r="6" fill="url(#gG)"/>
<circle cx="638" cy="368" r="6" fill="url(#gB)"/>
<circle cx="77" cy="408.5" r="6" fill="url(#gR)"/>
<circle cx="358" cy="485" r="6" fill="url(#gR)"/>
<circle cx="266" cy="579" r="6" fill="url(#gR)"/>
<circle cx="252.5" cy="636.5" r="6" fill="url(#gR)"/>
<circle cx="575" cy="595" r="6" fill="url(#gY)"/>
<circle cx="545" cy="261" r="6" fill="url(#gB)"/>
<circle cx="362" cy="405" r="6" fill="url(#gP)"/>
<circle cx="244" cy="200" r="7" fill="url(#gG)"/>
<circle cx="239" cy="306" r="7" fill="url(#gG)"/>
<circle cx="455" cy="129" r="7" fill="url(#gC)"/>
<circle cx="634" cy="171" r="7" fill="url(#gB)"/>
<circle cx="197" cy="558" r="7" fill="url(#gR)"/>
<circle cx="526" cy="104" r="7.5" fill="url(#gC)"/>
<circle cx="462" cy="412" r="7.5" fill="url(#gP)"/>
<circle cx="315" cy="326" r="8" fill="url(#gG)"/>
<circle cx="426" cy="142.5" r="8" fill="url(#gC)"/>
<circle cx="701" cy="186.5" r="8" fill="url(#gB)"/>
<circle cx="452" cy="251" r="8" fill="url(#gP)"/>
<circle cx="162" cy="499.5" r="8" fill="url(#gR)"/>
<circle cx="299.5" cy="688" r="8" fill="url(#gR)"/>
<circle cx="720" cy="603" r="8" fill="url(#gY)"/>
<circle cx="339.5" cy="128" r="8" fill="url(#gC)"/>
<circle cx="670" cy="313.5" r="8" fill="url(#gB)"/>
<circle cx="670.5" cy="152" r="8.5" fill="url(#gB)"/>
<circle cx="363.5" cy="578.5" r="8.5" fill="url(#gR)"/>
<circle cx="47" cy="176.5" r="9" fill="url(#gG)"/>
<circle cx="617" cy="327.5" r="9" fill="url(#gB)"/>
<circle cx="140" cy="546" r="9" fill="url(#gR)"/>
<circle cx="167" cy="214" r="9.5" fill="url(#gG)"/>
<circle cx="536" cy="45" r="10" fill="url(#gC)"/>
<circle cx="399" cy="530.5" r="10" fill="url(#gR)"/>
<circle cx="527.5" cy="650" r="10" fill="url(#gY)"/>
<circle cx="240" cy="458.5" r="10.5" fill="url(#gR)"/>
<circle cx="662" cy="456" r="10.5" fill="url(#gY)"/>
<circle cx="678" cy="248.5" r="11" fill="url(#gB)"/>
<circle cx="457" cy="365" r="11" fill="url(#gP)"/>
<circle cx="589" cy="289.5" r="12.5" fill="url(#gB)"/>
<circle cx="385" cy="282.5" r="12.5" fill="url(#gP)"/>
<circle cx="616" cy="200" r="12.5" fill="url(#gB)"/>
<circle cx="628" cy="548" r="12.7" fill="url(#gY)"/>
<circle cx="267" cy="300" r="13" fill="url(#gG)"/>
<circle cx="532.5" cy="336.5" r="13.5" fill="url(#gP)"/>
<circle cx="605" cy="490.5" r="13.5" fill="url(#gY)"/>
<circle cx="451" cy="74" r="14.5" fill="url(#gC)"/>
<circle cx="509" cy="398" r="16" fill="url(#gY)"/>
<circle cx="193" cy="269" r="16.5" fill="url(#gG)"/>
<circle cx="295" cy="437" r="17.5" fill="url(#gR)"/>
<circle cx="220" cy="112.5" r="19.5" fill="url(#gG)"/>
<circle cx="460.5" cy="484" r="20" fill="url(#gY)"/>
<circle cx="517" cy="561" r="21" fill="url(#gY)"/>
<circle cx="523.5" cy="219" r="22.5" fill="url(#gB)"/>
<circle cx="330" cy="239.5" r="28.5" fill="url(#gG)"/>
<circle cx="563" cy="425" r="35" fill="url(#gY)"/>
</g>
<g text-anchor="middle">
<text x="216.0" y="119.5" font-size="21.1">Mesenchymal Stem Cells</text>
<text x="329.0" y="246.3" font-size="24.2">Stroke</text>
<text x="192.8" y="273.0" font-size="20.0">Stem Cells</text>
<text x="166.8" y="219.0" font-size="16.7">Cell Therapy</text>
<text x="265.0" y="301.0" font-size="16.9">Therapy</text>
<text x="46.5" y="183.6" font-size="15.2">MRI</text>
<text x="133.5" y="90.0" font-size="13.6">Bone Marrow</text>
<text x="279.2" y="26.0" font-size="12.8">Growth Factors</text>
<text x="82.6" y="147.6" font-size="12.9">Regenerative Medicine</text>
<text x="167.5" y="170.4" font-size="12.9">Immunohistochemistry</text>
<text x="244.5" y="238.8" font-size="13.0">Clinical Trial</text>
<text x="310.8" y="209.0" font-size="12.8">Neurological Deficits</text>
<text x="60.0" y="339.5" font-size="12.7">Safety</text>
<text x="167.0" y="326.0" font-size="13.7">Animal Models</text>
<text x="133.5" y="350.0" font-size="12.5">Recovery</text>
<text x="101.8" y="372.0" font-size="12.6">G CSF</text>
<text x="314.0" y="331.0" font-size="14.7">Cell Transplantation</text>
<text x="253.2" y="370.0" font-size="12.8">Anti Inflammation</text>
<text x="449.8" y="79.5" font-size="18.2">Angiogenesis</text>
<text x="534.0" y="50.4" font-size="15.6">Endothelial Progenitor Cells</text>
<text x="525.5" y="109.0" font-size="14.3">VEGF</text>
<text x="387.2" y="117.0" font-size="11.9">SDF1</text>
<text x="423.8" y="147.5" font-size="14.6">Functional Recovery</text>
<text x="358.8" y="172.0" font-size="13.0">Behavioral Analysis</text>
<text x="546.5" y="178.5" font-size="12.8">Nerve Growth Factors</text>
<text x="567.5" y="142.0" font-size="13.0">HIF</text>
<text x="520.0" y="223.5" font-size="23.0">Cerebral Ischemic Stroke</text>
<text x="669.8" y="157.6" font-size="15.3">MiRNA</text>
<text x="701.5" y="190.8" font-size="13.5">Exosomes</text>
<text x="674.3" y="255.4" font-size="15.6">Reperfusion Injury</text>
<text x="727.5" y="302.0" font-size="13.2">Akt</text>
<text x="583.8" y="292.0" font-size="17.4">Neuroprotection</text>
<text x="615.0" y="329.5" font-size="16.4">Apoptosis</text>
<text x="636.5" y="372.4" font-size="13.6">Oxidative Stress</text>
<text x="700.5" y="402.6" font-size="13.6">OGD</text>
<text x="381.5" y="289.0" font-size="18.2">Transplantation</text>
<text x="532.2" y="342.5" font-size="17.8">MCAO</text>
<text x="453.0" y="372.5" font-size="16.4">Inflammation</text>
<text x="449.8" y="256.0" font-size="14.8">Infarct Volume</text>
<text x="482.8" y="312.5" font-size="12.7">Cell Death</text>
<text x="420.2" y="434.5" font-size="12.3">Aging</text>
<text x="375.2" y="445.0" font-size="12.5">Injury</text>
<text x="292.5" y="441.0" font-size="20.0">Ischemia</text>
<text x="74.0" y="410.5" font-size="13.6">Repair</text>
<text x="223.2" y="418.0" font-size="13.4">Hypoxia</text>
<text x="124.2" y="437.5" font-size="12.7">Cerebral Palsy</text>
<text x="191.2" y="474.5" font-size="13.2">Human</text>
<text x="158.0" y="502.0" font-size="14.7">Hypoxic Ischemic Encephalopathy</text>
<text x="356.0" y="489.0" font-size="13.5">Survival</text>
<text x="319.5" y="514.0" font-size="12.6">Receptor</text>
<text x="138.0" y="551.0" font-size="14.7">Regeneration</text>
<text x="285.0" y="551.0" font-size="12.9">Neurodegenerative Disease</text>
<text x="399.8" y="534.0" font-size="14.9">Mice</text>
<text x="262.0" y="581.0" font-size="14.6">Oligodendrocytes</text>
<text x="361.5" y="580.0" font-size="15.3">Neurons</text>
<text x="167.8" y="615.0" font-size="12.9">Oligodendrocyte Progenitor Cells</text>
<text x="333.8" y="622.5" font-size="12.6">CNS</text>
<text x="252.8" y="639.5" font-size="13.6">Astrocytes</text>
<text x="160.8" y="664.0" font-size="12.8">Neuroinflammation</text>
<text x="297.0" y="691.0" font-size="14.5">Microglia</text>
<text x="558.8" y="435.5" font-size="27.4">Cerebral Ischemia</text>
<text x="458.5" y="491.0" font-size="20.9">Neurogenesis</text>
<text x="516.0" y="569.5" font-size="21.1">Neural Stem Cells</text>
<text x="525.0" y="656.0" font-size="15.6">Brain Injury</text>
<text x="510.5" y="715.0" font-size="12.7">BrdU</text>
<text x="572.8" y="599.5" font-size="13.7">Hippocampus</text>
<text x="715.5" y="607.6" font-size="14.6">Subventricular Zone</text>
<text x="666.8" y="666.0" font-size="12.7">Doublecortin</text>
<text x="709.3" y="502.6" font-size="12.9">Neural Precursor Cells</text>
<text x="464.5" y="623.5" font-size="12.6">Notch</text>
</g></g></svg></body></html>
